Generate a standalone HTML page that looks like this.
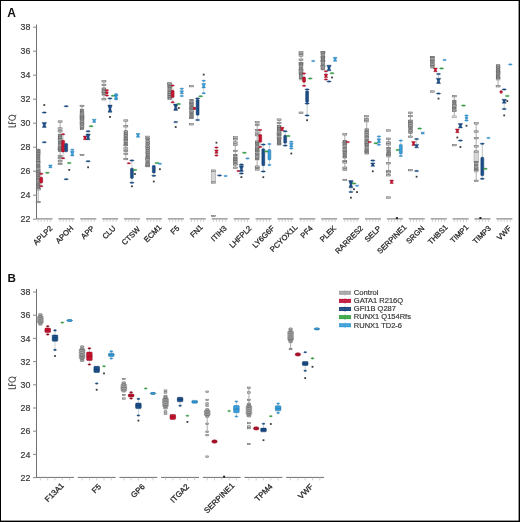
<!DOCTYPE html>
<html><head><meta charset="utf-8"><style>
html,body{margin:0;padding:0;background:#fff;width:520px;height:522px;overflow:hidden}
svg{display:block;will-change:transform}
</style></head><body>
<svg width="520" height="522" viewBox="0 0 520 522" font-family='"Liberation Sans", sans-serif'>
<rect x="0" y="0" width="520" height="522" fill="#fff"/>
<text x="7.2" y="16.8" font-size="12" font-weight="bold" fill="#111">A</text>
<text x="7.6" y="281.5" font-size="11.6" font-weight="bold" fill="#111">B</text>
<line x1="36.5" y1="24.5" x2="36.5" y2="218.9" stroke="#707070" stroke-width="1"/>
<line x1="33" y1="219.20" x2="36.5" y2="219.20" stroke="#8a8a8a" stroke-width="1"/>
<text x="30.3" y="222.30" text-anchor="end" font-size="8.8" fill="#3a3a3a" stroke="#3a3a3a" stroke-width="0.2">22</text>
<line x1="33" y1="195.20" x2="36.5" y2="195.20" stroke="#8a8a8a" stroke-width="1"/>
<text x="30.3" y="198.30" text-anchor="end" font-size="8.8" fill="#3a3a3a" stroke="#3a3a3a" stroke-width="0.2">24</text>
<line x1="33" y1="171.20" x2="36.5" y2="171.20" stroke="#8a8a8a" stroke-width="1"/>
<text x="30.3" y="174.30" text-anchor="end" font-size="8.8" fill="#3a3a3a" stroke="#3a3a3a" stroke-width="0.2">26</text>
<line x1="33" y1="147.20" x2="36.5" y2="147.20" stroke="#8a8a8a" stroke-width="1"/>
<text x="30.3" y="150.30" text-anchor="end" font-size="8.8" fill="#3a3a3a" stroke="#3a3a3a" stroke-width="0.2">28</text>
<line x1="33" y1="123.20" x2="36.5" y2="123.20" stroke="#8a8a8a" stroke-width="1"/>
<text x="30.3" y="126.30" text-anchor="end" font-size="8.8" fill="#3a3a3a" stroke="#3a3a3a" stroke-width="0.2">30</text>
<line x1="33" y1="99.20" x2="36.5" y2="99.20" stroke="#8a8a8a" stroke-width="1"/>
<text x="30.3" y="102.30" text-anchor="end" font-size="8.8" fill="#3a3a3a" stroke="#3a3a3a" stroke-width="0.2">32</text>
<line x1="33" y1="75.20" x2="36.5" y2="75.20" stroke="#8a8a8a" stroke-width="1"/>
<text x="30.3" y="78.30" text-anchor="end" font-size="8.8" fill="#3a3a3a" stroke="#3a3a3a" stroke-width="0.2">34</text>
<line x1="33" y1="51.20" x2="36.5" y2="51.20" stroke="#8a8a8a" stroke-width="1"/>
<text x="30.3" y="54.30" text-anchor="end" font-size="8.8" fill="#3a3a3a" stroke="#3a3a3a" stroke-width="0.2">36</text>
<line x1="33" y1="27.20" x2="36.5" y2="27.20" stroke="#8a8a8a" stroke-width="1"/>
<text x="30.3" y="30.30" text-anchor="end" font-size="8.8" fill="#3a3a3a" stroke="#3a3a3a" stroke-width="0.2">38</text>
<g transform="translate(15.9,127.90) rotate(-90)" fill="none" stroke="#3a3a3a" stroke-width="0.95"><path d="M1,-7.6 V-0.48 H3.1 M4.3,0 V-7.12 H6.5 M4.3,-3.9 H6.1 M11,-1.4 L13,0.3"/><ellipse cx="10.1" cy="-3.8" rx="2.6" ry="3.35"/></g>
<line x1="36.50" y1="218.9" x2="52.50" y2="218.9" stroke="#707070" stroke-width="1"/>
<line x1="38.20" y1="218.9" x2="38.20" y2="221.9" stroke="#b0b0b0" stroke-width="0.6"/>
<line x1="41.25" y1="218.9" x2="41.25" y2="221.9" stroke="#b0b0b0" stroke-width="0.6"/>
<line x1="44.30" y1="218.9" x2="44.30" y2="221.9" stroke="#b0b0b0" stroke-width="0.6"/>
<line x1="47.35" y1="218.9" x2="47.35" y2="221.9" stroke="#b0b0b0" stroke-width="0.6"/>
<line x1="50.40" y1="218.9" x2="50.40" y2="221.9" stroke="#b0b0b0" stroke-width="0.6"/>
<text transform="translate(53.00,228.80) rotate(-45)" text-anchor="end" font-size="7.6" fill="#262626" stroke="#262626" stroke-width="0.28">APLP2</text>
<line x1="58.40" y1="218.9" x2="74.40" y2="218.9" stroke="#707070" stroke-width="1"/>
<line x1="60.10" y1="218.9" x2="60.10" y2="221.9" stroke="#b0b0b0" stroke-width="0.6"/>
<line x1="63.15" y1="218.9" x2="63.15" y2="221.9" stroke="#b0b0b0" stroke-width="0.6"/>
<line x1="66.20" y1="218.9" x2="66.20" y2="221.9" stroke="#b0b0b0" stroke-width="0.6"/>
<line x1="69.25" y1="218.9" x2="69.25" y2="221.9" stroke="#b0b0b0" stroke-width="0.6"/>
<line x1="72.30" y1="218.9" x2="72.30" y2="221.9" stroke="#b0b0b0" stroke-width="0.6"/>
<text transform="translate(73.90,228.80) rotate(-45)" text-anchor="end" font-size="7.6" fill="#262626" stroke="#262626" stroke-width="0.28">APOH</text>
<line x1="80.30" y1="218.9" x2="96.30" y2="218.9" stroke="#707070" stroke-width="1"/>
<line x1="82.00" y1="218.9" x2="82.00" y2="221.9" stroke="#b0b0b0" stroke-width="0.6"/>
<line x1="85.05" y1="218.9" x2="85.05" y2="221.9" stroke="#b0b0b0" stroke-width="0.6"/>
<line x1="88.10" y1="218.9" x2="88.10" y2="221.9" stroke="#b0b0b0" stroke-width="0.6"/>
<line x1="91.15" y1="218.9" x2="91.15" y2="221.9" stroke="#b0b0b0" stroke-width="0.6"/>
<line x1="94.20" y1="218.9" x2="94.20" y2="221.9" stroke="#b0b0b0" stroke-width="0.6"/>
<text transform="translate(94.80,228.80) rotate(-45)" text-anchor="end" font-size="7.6" fill="#262626" stroke="#262626" stroke-width="0.28">APP</text>
<line x1="102.20" y1="218.9" x2="118.20" y2="218.9" stroke="#707070" stroke-width="1"/>
<line x1="103.90" y1="218.9" x2="103.90" y2="221.9" stroke="#b0b0b0" stroke-width="0.6"/>
<line x1="106.95" y1="218.9" x2="106.95" y2="221.9" stroke="#b0b0b0" stroke-width="0.6"/>
<line x1="110.00" y1="218.9" x2="110.00" y2="221.9" stroke="#b0b0b0" stroke-width="0.6"/>
<line x1="113.05" y1="218.9" x2="113.05" y2="221.9" stroke="#b0b0b0" stroke-width="0.6"/>
<line x1="116.10" y1="218.9" x2="116.10" y2="221.9" stroke="#b0b0b0" stroke-width="0.6"/>
<text transform="translate(116.20,228.80) rotate(-45)" text-anchor="end" font-size="7.6" fill="#262626" stroke="#262626" stroke-width="0.28">CLU</text>
<line x1="124.10" y1="218.9" x2="140.10" y2="218.9" stroke="#707070" stroke-width="1"/>
<line x1="125.80" y1="218.9" x2="125.80" y2="221.9" stroke="#b0b0b0" stroke-width="0.6"/>
<line x1="128.85" y1="218.9" x2="128.85" y2="221.9" stroke="#b0b0b0" stroke-width="0.6"/>
<line x1="131.90" y1="218.9" x2="131.90" y2="221.9" stroke="#b0b0b0" stroke-width="0.6"/>
<line x1="134.95" y1="218.9" x2="134.95" y2="221.9" stroke="#b0b0b0" stroke-width="0.6"/>
<line x1="138.00" y1="218.9" x2="138.00" y2="221.9" stroke="#b0b0b0" stroke-width="0.6"/>
<text transform="translate(140.60,229.80) rotate(-45)" text-anchor="end" font-size="7.6" fill="#262626" stroke="#262626" stroke-width="0.28">CTSW</text>
<line x1="146.00" y1="218.9" x2="162.00" y2="218.9" stroke="#707070" stroke-width="1"/>
<line x1="147.70" y1="218.9" x2="147.70" y2="221.9" stroke="#b0b0b0" stroke-width="0.6"/>
<line x1="150.75" y1="218.9" x2="150.75" y2="221.9" stroke="#b0b0b0" stroke-width="0.6"/>
<line x1="153.80" y1="218.9" x2="153.80" y2="221.9" stroke="#b0b0b0" stroke-width="0.6"/>
<line x1="156.85" y1="218.9" x2="156.85" y2="221.9" stroke="#b0b0b0" stroke-width="0.6"/>
<line x1="159.90" y1="218.9" x2="159.90" y2="221.9" stroke="#b0b0b0" stroke-width="0.6"/>
<text transform="translate(162.00,227.80) rotate(-45)" text-anchor="end" font-size="7.6" fill="#262626" stroke="#262626" stroke-width="0.28">ECM1</text>
<line x1="167.90" y1="218.9" x2="183.90" y2="218.9" stroke="#707070" stroke-width="1"/>
<line x1="169.60" y1="218.9" x2="169.60" y2="221.9" stroke="#b0b0b0" stroke-width="0.6"/>
<line x1="172.65" y1="218.9" x2="172.65" y2="221.9" stroke="#b0b0b0" stroke-width="0.6"/>
<line x1="175.70" y1="218.9" x2="175.70" y2="221.9" stroke="#b0b0b0" stroke-width="0.6"/>
<line x1="178.75" y1="218.9" x2="178.75" y2="221.9" stroke="#b0b0b0" stroke-width="0.6"/>
<line x1="181.80" y1="218.9" x2="181.80" y2="221.9" stroke="#b0b0b0" stroke-width="0.6"/>
<text transform="translate(179.90,228.80) rotate(-45)" text-anchor="end" font-size="7.6" fill="#262626" stroke="#262626" stroke-width="0.28">F5</text>
<line x1="189.80" y1="218.9" x2="205.80" y2="218.9" stroke="#707070" stroke-width="1"/>
<line x1="191.50" y1="218.9" x2="191.50" y2="221.9" stroke="#b0b0b0" stroke-width="0.6"/>
<line x1="194.55" y1="218.9" x2="194.55" y2="221.9" stroke="#b0b0b0" stroke-width="0.6"/>
<line x1="197.60" y1="218.9" x2="197.60" y2="221.9" stroke="#b0b0b0" stroke-width="0.6"/>
<line x1="200.65" y1="218.9" x2="200.65" y2="221.9" stroke="#b0b0b0" stroke-width="0.6"/>
<line x1="203.70" y1="218.9" x2="203.70" y2="221.9" stroke="#b0b0b0" stroke-width="0.6"/>
<text transform="translate(203.30,227.80) rotate(-45)" text-anchor="end" font-size="7.6" fill="#262626" stroke="#262626" stroke-width="0.28">FN1</text>
<line x1="211.70" y1="218.9" x2="227.70" y2="218.9" stroke="#707070" stroke-width="1"/>
<line x1="213.40" y1="218.9" x2="213.40" y2="221.9" stroke="#b0b0b0" stroke-width="0.6"/>
<line x1="216.45" y1="218.9" x2="216.45" y2="221.9" stroke="#b0b0b0" stroke-width="0.6"/>
<line x1="219.50" y1="218.9" x2="219.50" y2="221.9" stroke="#b0b0b0" stroke-width="0.6"/>
<line x1="222.55" y1="218.9" x2="222.55" y2="221.9" stroke="#b0b0b0" stroke-width="0.6"/>
<line x1="225.60" y1="218.9" x2="225.60" y2="221.9" stroke="#b0b0b0" stroke-width="0.6"/>
<text transform="translate(227.20,228.80) rotate(-45)" text-anchor="end" font-size="7.6" fill="#262626" stroke="#262626" stroke-width="0.28">ITIH3</text>
<line x1="233.60" y1="218.9" x2="249.60" y2="218.9" stroke="#707070" stroke-width="1"/>
<line x1="235.30" y1="218.9" x2="235.30" y2="221.9" stroke="#b0b0b0" stroke-width="0.6"/>
<line x1="238.35" y1="218.9" x2="238.35" y2="221.9" stroke="#b0b0b0" stroke-width="0.6"/>
<line x1="241.40" y1="218.9" x2="241.40" y2="221.9" stroke="#b0b0b0" stroke-width="0.6"/>
<line x1="244.45" y1="218.9" x2="244.45" y2="221.9" stroke="#b0b0b0" stroke-width="0.6"/>
<line x1="247.50" y1="218.9" x2="247.50" y2="221.9" stroke="#b0b0b0" stroke-width="0.6"/>
<text transform="translate(252.10,228.80) rotate(-45)" text-anchor="end" font-size="7.6" fill="#262626" stroke="#262626" stroke-width="0.28">LHFPL2</text>
<line x1="255.50" y1="218.9" x2="271.50" y2="218.9" stroke="#707070" stroke-width="1"/>
<line x1="257.20" y1="218.9" x2="257.20" y2="221.9" stroke="#b0b0b0" stroke-width="0.6"/>
<line x1="260.25" y1="218.9" x2="260.25" y2="221.9" stroke="#b0b0b0" stroke-width="0.6"/>
<line x1="263.30" y1="218.9" x2="263.30" y2="221.9" stroke="#b0b0b0" stroke-width="0.6"/>
<line x1="266.35" y1="218.9" x2="266.35" y2="221.9" stroke="#b0b0b0" stroke-width="0.6"/>
<line x1="269.40" y1="218.9" x2="269.40" y2="221.9" stroke="#b0b0b0" stroke-width="0.6"/>
<text transform="translate(275.00,228.80) rotate(-45)" text-anchor="end" font-size="7.6" fill="#262626" stroke="#262626" stroke-width="0.28">LY6G6F</text>
<line x1="277.40" y1="218.9" x2="293.40" y2="218.9" stroke="#707070" stroke-width="1"/>
<line x1="279.10" y1="218.9" x2="279.10" y2="221.9" stroke="#b0b0b0" stroke-width="0.6"/>
<line x1="282.15" y1="218.9" x2="282.15" y2="221.9" stroke="#b0b0b0" stroke-width="0.6"/>
<line x1="285.20" y1="218.9" x2="285.20" y2="221.9" stroke="#b0b0b0" stroke-width="0.6"/>
<line x1="288.25" y1="218.9" x2="288.25" y2="221.9" stroke="#b0b0b0" stroke-width="0.6"/>
<line x1="291.30" y1="218.9" x2="291.30" y2="221.9" stroke="#b0b0b0" stroke-width="0.6"/>
<text transform="translate(297.90,227.80) rotate(-45)" text-anchor="end" font-size="7.6" fill="#262626" stroke="#262626" stroke-width="0.28">PCYOX1L</text>
<line x1="299.30" y1="218.9" x2="315.30" y2="218.9" stroke="#707070" stroke-width="1"/>
<line x1="301.00" y1="218.9" x2="301.00" y2="221.9" stroke="#b0b0b0" stroke-width="0.6"/>
<line x1="304.05" y1="218.9" x2="304.05" y2="221.9" stroke="#b0b0b0" stroke-width="0.6"/>
<line x1="307.10" y1="218.9" x2="307.10" y2="221.9" stroke="#b0b0b0" stroke-width="0.6"/>
<line x1="310.15" y1="218.9" x2="310.15" y2="221.9" stroke="#b0b0b0" stroke-width="0.6"/>
<line x1="313.20" y1="218.9" x2="313.20" y2="221.9" stroke="#b0b0b0" stroke-width="0.6"/>
<text transform="translate(313.30,228.80) rotate(-45)" text-anchor="end" font-size="7.6" fill="#262626" stroke="#262626" stroke-width="0.28">PF4</text>
<line x1="321.20" y1="218.9" x2="337.20" y2="218.9" stroke="#707070" stroke-width="1"/>
<line x1="322.90" y1="218.9" x2="322.90" y2="221.9" stroke="#b0b0b0" stroke-width="0.6"/>
<line x1="325.95" y1="218.9" x2="325.95" y2="221.9" stroke="#b0b0b0" stroke-width="0.6"/>
<line x1="329.00" y1="218.9" x2="329.00" y2="221.9" stroke="#b0b0b0" stroke-width="0.6"/>
<line x1="332.05" y1="218.9" x2="332.05" y2="221.9" stroke="#b0b0b0" stroke-width="0.6"/>
<line x1="335.10" y1="218.9" x2="335.10" y2="221.9" stroke="#b0b0b0" stroke-width="0.6"/>
<text transform="translate(336.70,228.80) rotate(-45)" text-anchor="end" font-size="7.6" fill="#262626" stroke="#262626" stroke-width="0.28">PLEK</text>
<line x1="343.10" y1="218.9" x2="359.10" y2="218.9" stroke="#707070" stroke-width="1"/>
<line x1="344.80" y1="218.9" x2="344.80" y2="221.9" stroke="#b0b0b0" stroke-width="0.6"/>
<line x1="347.85" y1="218.9" x2="347.85" y2="221.9" stroke="#b0b0b0" stroke-width="0.6"/>
<line x1="350.90" y1="218.9" x2="350.90" y2="221.9" stroke="#b0b0b0" stroke-width="0.6"/>
<line x1="353.95" y1="218.9" x2="353.95" y2="221.9" stroke="#b0b0b0" stroke-width="0.6"/>
<line x1="357.00" y1="218.9" x2="357.00" y2="221.9" stroke="#b0b0b0" stroke-width="0.6"/>
<text transform="translate(363.60,228.80) rotate(-45)" text-anchor="end" font-size="7.6" fill="#262626" stroke="#262626" stroke-width="0.28">RARRES2</text>
<line x1="365.00" y1="218.9" x2="381.00" y2="218.9" stroke="#707070" stroke-width="1"/>
<line x1="366.70" y1="218.9" x2="366.70" y2="221.9" stroke="#b0b0b0" stroke-width="0.6"/>
<line x1="369.75" y1="218.9" x2="369.75" y2="221.9" stroke="#b0b0b0" stroke-width="0.6"/>
<line x1="372.80" y1="218.9" x2="372.80" y2="221.9" stroke="#b0b0b0" stroke-width="0.6"/>
<line x1="375.85" y1="218.9" x2="375.85" y2="221.9" stroke="#b0b0b0" stroke-width="0.6"/>
<line x1="378.90" y1="218.9" x2="378.90" y2="221.9" stroke="#b0b0b0" stroke-width="0.6"/>
<text transform="translate(381.50,228.80) rotate(-45)" text-anchor="end" font-size="7.6" fill="#262626" stroke="#262626" stroke-width="0.28">SELP</text>
<line x1="386.90" y1="218.9" x2="402.90" y2="218.9" stroke="#707070" stroke-width="1"/>
<line x1="388.60" y1="218.9" x2="388.60" y2="221.9" stroke="#b0b0b0" stroke-width="0.6"/>
<line x1="391.65" y1="218.9" x2="391.65" y2="221.9" stroke="#b0b0b0" stroke-width="0.6"/>
<line x1="394.70" y1="218.9" x2="394.70" y2="221.9" stroke="#b0b0b0" stroke-width="0.6"/>
<line x1="397.75" y1="218.9" x2="397.75" y2="221.9" stroke="#b0b0b0" stroke-width="0.6"/>
<line x1="400.80" y1="218.9" x2="400.80" y2="221.9" stroke="#b0b0b0" stroke-width="0.6"/>
<text transform="translate(406.90,227.80) rotate(-45)" text-anchor="end" font-size="7.6" fill="#262626" stroke="#262626" stroke-width="0.28">SERPINE1</text>
<line x1="408.80" y1="218.9" x2="424.80" y2="218.9" stroke="#707070" stroke-width="1"/>
<line x1="410.50" y1="218.9" x2="410.50" y2="221.9" stroke="#b0b0b0" stroke-width="0.6"/>
<line x1="413.55" y1="218.9" x2="413.55" y2="221.9" stroke="#b0b0b0" stroke-width="0.6"/>
<line x1="416.60" y1="218.9" x2="416.60" y2="221.9" stroke="#b0b0b0" stroke-width="0.6"/>
<line x1="419.65" y1="218.9" x2="419.65" y2="221.9" stroke="#b0b0b0" stroke-width="0.6"/>
<line x1="422.70" y1="218.9" x2="422.70" y2="221.9" stroke="#b0b0b0" stroke-width="0.6"/>
<text transform="translate(424.80,228.80) rotate(-45)" text-anchor="end" font-size="7.6" fill="#262626" stroke="#262626" stroke-width="0.28">SRGN</text>
<line x1="430.70" y1="218.9" x2="446.70" y2="218.9" stroke="#707070" stroke-width="1"/>
<line x1="432.40" y1="218.9" x2="432.40" y2="221.9" stroke="#b0b0b0" stroke-width="0.6"/>
<line x1="435.45" y1="218.9" x2="435.45" y2="221.9" stroke="#b0b0b0" stroke-width="0.6"/>
<line x1="438.50" y1="218.9" x2="438.50" y2="221.9" stroke="#b0b0b0" stroke-width="0.6"/>
<line x1="441.55" y1="218.9" x2="441.55" y2="221.9" stroke="#b0b0b0" stroke-width="0.6"/>
<line x1="444.60" y1="218.9" x2="444.60" y2="221.9" stroke="#b0b0b0" stroke-width="0.6"/>
<text transform="translate(448.20,227.80) rotate(-45)" text-anchor="end" font-size="7.6" fill="#262626" stroke="#262626" stroke-width="0.28">THBS1</text>
<line x1="452.60" y1="218.9" x2="468.60" y2="218.9" stroke="#707070" stroke-width="1"/>
<line x1="454.30" y1="218.9" x2="454.30" y2="221.9" stroke="#b0b0b0" stroke-width="0.6"/>
<line x1="457.35" y1="218.9" x2="457.35" y2="221.9" stroke="#b0b0b0" stroke-width="0.6"/>
<line x1="460.40" y1="218.9" x2="460.40" y2="221.9" stroke="#b0b0b0" stroke-width="0.6"/>
<line x1="463.45" y1="218.9" x2="463.45" y2="221.9" stroke="#b0b0b0" stroke-width="0.6"/>
<line x1="466.50" y1="218.9" x2="466.50" y2="221.9" stroke="#b0b0b0" stroke-width="0.6"/>
<text transform="translate(469.10,227.80) rotate(-45)" text-anchor="end" font-size="7.6" fill="#262626" stroke="#262626" stroke-width="0.28">TIMP1</text>
<line x1="474.50" y1="218.9" x2="490.50" y2="218.9" stroke="#707070" stroke-width="1"/>
<line x1="476.20" y1="218.9" x2="476.20" y2="221.9" stroke="#b0b0b0" stroke-width="0.6"/>
<line x1="479.25" y1="218.9" x2="479.25" y2="221.9" stroke="#b0b0b0" stroke-width="0.6"/>
<line x1="482.30" y1="218.9" x2="482.30" y2="221.9" stroke="#b0b0b0" stroke-width="0.6"/>
<line x1="485.35" y1="218.9" x2="485.35" y2="221.9" stroke="#b0b0b0" stroke-width="0.6"/>
<line x1="488.40" y1="218.9" x2="488.40" y2="221.9" stroke="#b0b0b0" stroke-width="0.6"/>
<text transform="translate(491.50,228.80) rotate(-45)" text-anchor="end" font-size="7.6" fill="#262626" stroke="#262626" stroke-width="0.28">TIMP3</text>
<line x1="496.40" y1="218.9" x2="512.40" y2="218.9" stroke="#707070" stroke-width="1"/>
<line x1="498.10" y1="218.9" x2="498.10" y2="221.9" stroke="#b0b0b0" stroke-width="0.6"/>
<line x1="501.15" y1="218.9" x2="501.15" y2="221.9" stroke="#b0b0b0" stroke-width="0.6"/>
<line x1="504.20" y1="218.9" x2="504.20" y2="221.9" stroke="#b0b0b0" stroke-width="0.6"/>
<line x1="507.25" y1="218.9" x2="507.25" y2="221.9" stroke="#b0b0b0" stroke-width="0.6"/>
<line x1="510.30" y1="218.9" x2="510.30" y2="221.9" stroke="#b0b0b0" stroke-width="0.6"/>
<text transform="translate(511.90,228.80) rotate(-45)" text-anchor="end" font-size="7.6" fill="#262626" stroke="#262626" stroke-width="0.28">VWF</text>
<line x1="36.5" y1="289" x2="36.5" y2="477.4" stroke="#707070" stroke-width="1"/>
<line x1="33" y1="477.60" x2="36.5" y2="477.60" stroke="#8a8a8a" stroke-width="1"/>
<text x="30.3" y="480.70" text-anchor="end" font-size="8.8" fill="#3a3a3a" stroke="#3a3a3a" stroke-width="0.2">22</text>
<line x1="33" y1="454.40" x2="36.5" y2="454.40" stroke="#8a8a8a" stroke-width="1"/>
<text x="30.3" y="457.50" text-anchor="end" font-size="8.8" fill="#3a3a3a" stroke="#3a3a3a" stroke-width="0.2">24</text>
<line x1="33" y1="431.20" x2="36.5" y2="431.20" stroke="#8a8a8a" stroke-width="1"/>
<text x="30.3" y="434.30" text-anchor="end" font-size="8.8" fill="#3a3a3a" stroke="#3a3a3a" stroke-width="0.2">26</text>
<line x1="33" y1="408.00" x2="36.5" y2="408.00" stroke="#8a8a8a" stroke-width="1"/>
<text x="30.3" y="411.10" text-anchor="end" font-size="8.8" fill="#3a3a3a" stroke="#3a3a3a" stroke-width="0.2">28</text>
<line x1="33" y1="384.80" x2="36.5" y2="384.80" stroke="#8a8a8a" stroke-width="1"/>
<text x="30.3" y="387.90" text-anchor="end" font-size="8.8" fill="#3a3a3a" stroke="#3a3a3a" stroke-width="0.2">30</text>
<line x1="33" y1="361.60" x2="36.5" y2="361.60" stroke="#8a8a8a" stroke-width="1"/>
<text x="30.3" y="364.70" text-anchor="end" font-size="8.8" fill="#3a3a3a" stroke="#3a3a3a" stroke-width="0.2">32</text>
<line x1="33" y1="338.40" x2="36.5" y2="338.40" stroke="#8a8a8a" stroke-width="1"/>
<text x="30.3" y="341.50" text-anchor="end" font-size="8.8" fill="#3a3a3a" stroke="#3a3a3a" stroke-width="0.2">34</text>
<line x1="33" y1="315.20" x2="36.5" y2="315.20" stroke="#8a8a8a" stroke-width="1"/>
<text x="30.3" y="318.30" text-anchor="end" font-size="8.8" fill="#3a3a3a" stroke="#3a3a3a" stroke-width="0.2">36</text>
<line x1="33" y1="292.00" x2="36.5" y2="292.00" stroke="#8a8a8a" stroke-width="1"/>
<text x="30.3" y="295.10" text-anchor="end" font-size="8.8" fill="#3a3a3a" stroke="#3a3a3a" stroke-width="0.2">38</text>
<g transform="translate(15.9,389.70) rotate(-90)" fill="none" stroke="#3a3a3a" stroke-width="0.95"><path d="M1,-7.6 V-0.48 H3.1 M4.3,0 V-7.12 H6.5 M4.3,-3.9 H6.1 M11,-1.4 L13,0.3"/><ellipse cx="10.1" cy="-3.8" rx="2.6" ry="3.35"/></g>
<line x1="36.00" y1="477.4" x2="73.90" y2="477.4" stroke="#707070" stroke-width="1"/>
<line x1="40.40" y1="477.4" x2="40.40" y2="480.4" stroke="#b0b0b0" stroke-width="0.6"/>
<line x1="47.70" y1="477.4" x2="47.70" y2="480.4" stroke="#b0b0b0" stroke-width="0.6"/>
<line x1="55.00" y1="477.4" x2="55.00" y2="480.4" stroke="#b0b0b0" stroke-width="0.6"/>
<line x1="62.30" y1="477.4" x2="62.30" y2="480.4" stroke="#b0b0b0" stroke-width="0.6"/>
<line x1="69.60" y1="477.4" x2="69.60" y2="480.4" stroke="#b0b0b0" stroke-width="0.6"/>
<text transform="translate(64.47,486.08) rotate(-45)" text-anchor="end" font-size="7.9" fill="#262626" stroke="#262626" stroke-width="0.28">F13A1</text>
<line x1="77.70" y1="477.4" x2="115.60" y2="477.4" stroke="#707070" stroke-width="1"/>
<line x1="82.10" y1="477.4" x2="82.10" y2="480.4" stroke="#b0b0b0" stroke-width="0.6"/>
<line x1="89.40" y1="477.4" x2="89.40" y2="480.4" stroke="#b0b0b0" stroke-width="0.6"/>
<line x1="96.70" y1="477.4" x2="96.70" y2="480.4" stroke="#b0b0b0" stroke-width="0.6"/>
<line x1="104.00" y1="477.4" x2="104.00" y2="480.4" stroke="#b0b0b0" stroke-width="0.6"/>
<line x1="111.30" y1="477.4" x2="111.30" y2="480.4" stroke="#b0b0b0" stroke-width="0.6"/>
<text transform="translate(101.50,487.12) rotate(-45)" text-anchor="end" font-size="7.9" fill="#262626" stroke="#262626" stroke-width="0.28">F5</text>
<line x1="119.40" y1="477.4" x2="157.30" y2="477.4" stroke="#707070" stroke-width="1"/>
<line x1="123.80" y1="477.4" x2="123.80" y2="480.4" stroke="#b0b0b0" stroke-width="0.6"/>
<line x1="131.10" y1="477.4" x2="131.10" y2="480.4" stroke="#b0b0b0" stroke-width="0.6"/>
<line x1="138.40" y1="477.4" x2="138.40" y2="480.4" stroke="#b0b0b0" stroke-width="0.6"/>
<line x1="145.70" y1="477.4" x2="145.70" y2="480.4" stroke="#b0b0b0" stroke-width="0.6"/>
<line x1="153.00" y1="477.4" x2="153.00" y2="480.4" stroke="#b0b0b0" stroke-width="0.6"/>
<text transform="translate(145.28,487.12) rotate(-45)" text-anchor="end" font-size="7.9" fill="#262626" stroke="#262626" stroke-width="0.28">GP6</text>
<line x1="161.10" y1="477.4" x2="199.00" y2="477.4" stroke="#707070" stroke-width="1"/>
<line x1="165.50" y1="477.4" x2="165.50" y2="480.4" stroke="#b0b0b0" stroke-width="0.6"/>
<line x1="172.80" y1="477.4" x2="172.80" y2="480.4" stroke="#b0b0b0" stroke-width="0.6"/>
<line x1="180.10" y1="477.4" x2="180.10" y2="480.4" stroke="#b0b0b0" stroke-width="0.6"/>
<line x1="187.40" y1="477.4" x2="187.40" y2="480.4" stroke="#b0b0b0" stroke-width="0.6"/>
<line x1="194.70" y1="477.4" x2="194.70" y2="480.4" stroke="#b0b0b0" stroke-width="0.6"/>
<text transform="translate(189.58,487.12) rotate(-45)" text-anchor="end" font-size="7.9" fill="#262626" stroke="#262626" stroke-width="0.28">ITGA2</text>
<line x1="202.80" y1="477.4" x2="240.70" y2="477.4" stroke="#707070" stroke-width="1"/>
<line x1="207.20" y1="477.4" x2="207.20" y2="480.4" stroke="#b0b0b0" stroke-width="0.6"/>
<line x1="214.50" y1="477.4" x2="214.50" y2="480.4" stroke="#b0b0b0" stroke-width="0.6"/>
<line x1="221.80" y1="477.4" x2="221.80" y2="480.4" stroke="#b0b0b0" stroke-width="0.6"/>
<line x1="229.10" y1="477.4" x2="229.10" y2="480.4" stroke="#b0b0b0" stroke-width="0.6"/>
<line x1="236.40" y1="477.4" x2="236.40" y2="480.4" stroke="#b0b0b0" stroke-width="0.6"/>
<text transform="translate(234.91,486.08) rotate(-45)" text-anchor="end" font-size="7.9" fill="#262626" stroke="#262626" stroke-width="0.28">SERPINE1</text>
<line x1="244.50" y1="477.4" x2="282.40" y2="477.4" stroke="#707070" stroke-width="1"/>
<line x1="248.90" y1="477.4" x2="248.90" y2="480.4" stroke="#b0b0b0" stroke-width="0.6"/>
<line x1="256.20" y1="477.4" x2="256.20" y2="480.4" stroke="#b0b0b0" stroke-width="0.6"/>
<line x1="263.50" y1="477.4" x2="263.50" y2="480.4" stroke="#b0b0b0" stroke-width="0.6"/>
<line x1="270.80" y1="477.4" x2="270.80" y2="480.4" stroke="#b0b0b0" stroke-width="0.6"/>
<line x1="278.10" y1="477.4" x2="278.10" y2="480.4" stroke="#b0b0b0" stroke-width="0.6"/>
<text transform="translate(272.98,487.12) rotate(-45)" text-anchor="end" font-size="7.9" fill="#262626" stroke="#262626" stroke-width="0.28">TPM4</text>
<line x1="286.20" y1="477.4" x2="324.10" y2="477.4" stroke="#707070" stroke-width="1"/>
<line x1="290.60" y1="477.4" x2="290.60" y2="480.4" stroke="#b0b0b0" stroke-width="0.6"/>
<line x1="297.90" y1="477.4" x2="297.90" y2="480.4" stroke="#b0b0b0" stroke-width="0.6"/>
<line x1="305.20" y1="477.4" x2="305.20" y2="480.4" stroke="#b0b0b0" stroke-width="0.6"/>
<line x1="312.50" y1="477.4" x2="312.50" y2="480.4" stroke="#b0b0b0" stroke-width="0.6"/>
<line x1="319.80" y1="477.4" x2="319.80" y2="480.4" stroke="#b0b0b0" stroke-width="0.6"/>
<text transform="translate(313.64,487.12) rotate(-45)" text-anchor="end" font-size="7.9" fill="#262626" stroke="#262626" stroke-width="0.28">VWF</text>
<line x1="38.2" y1="148.6" x2="38.2" y2="202.1" stroke="#b4b4b4" stroke-width="1.1"/>
<rect x="36" y="149" width="4.4" height="40.3" fill="#b4b4b4"/>
<rect x="36.49" y="149.2" width="3.42" height="1.4" fill="none" stroke="#5a5a5a" stroke-width="0.6"/>
<rect x="36.34" y="151.15" width="3.71" height="1.4" fill="none" stroke="#5a5a5a" stroke-width="0.6"/>
<rect x="36.39" y="153.02" width="3.61" height="1.4" fill="none" stroke="#5a5a5a" stroke-width="0.6"/>
<rect x="36.6" y="155.19" width="3.19" height="1.4" fill="none" stroke="#5a5a5a" stroke-width="0.6"/>
<rect x="36.61" y="157.5" width="3.17" height="1.4" fill="none" stroke="#5a5a5a" stroke-width="0.6"/>
<rect x="36.6" y="159.73" width="3.2" height="1.4" fill="none" stroke="#5a5a5a" stroke-width="0.6"/>
<rect x="36.44" y="161.62" width="3.51" height="1.4" fill="none" stroke="#5a5a5a" stroke-width="0.6"/>
<rect x="36.58" y="164.25" width="3.25" height="1.4" fill="none" stroke="#5a5a5a" stroke-width="0.6"/>
<rect x="36.35" y="166.27" width="3.69" height="1.4" fill="none" stroke="#5a5a5a" stroke-width="0.6"/>
<rect x="36.38" y="169.02" width="3.65" height="1.4" fill="none" stroke="#5a5a5a" stroke-width="0.6"/>
<rect x="36.2" y="171.22" width="4" height="1.4" fill="none" stroke="#5a5a5a" stroke-width="0.6"/>
<rect x="36.25" y="173.06" width="3.9" height="1.4" fill="none" stroke="#5a5a5a" stroke-width="0.6"/>
<rect x="36.57" y="175.15" width="3.27" height="1.4" fill="none" stroke="#5a5a5a" stroke-width="0.6"/>
<rect x="36.49" y="177.07" width="3.41" height="1.4" fill="none" stroke="#5a5a5a" stroke-width="0.6"/>
<rect x="36.55" y="179.69" width="3.3" height="1.4" fill="none" stroke="#5a5a5a" stroke-width="0.6"/>
<rect x="36.35" y="182.07" width="3.7" height="1.4" fill="none" stroke="#5a5a5a" stroke-width="0.6"/>
<rect x="36.39" y="184.24" width="3.62" height="1.4" fill="none" stroke="#5a5a5a" stroke-width="0.6"/>
<rect x="36.6" y="186.1" width="3.19" height="1.4" fill="none" stroke="#5a5a5a" stroke-width="0.6"/>
<rect x="36.33" y="188.11" width="3.74" height="1.4" fill="none" stroke="#5a5a5a" stroke-width="0.6"/>
<rect x="36.2" y="188.6" width="4" height="1.4" fill="#c8c8c8" stroke="#666" stroke-width="0.55"/>
<rect x="36.2" y="201.4" width="4" height="1.4" fill="#c8c8c8" stroke="#666" stroke-width="0.55"/>
<line x1="41.25" y1="173.7" x2="41.25" y2="177.3" stroke="#9aa" stroke-width="0.5"/>
<line x1="41.25" y1="186.2" x2="41.25" y2="183" stroke="#9aa" stroke-width="0.5"/>
<rect x="39.8" y="177.3" width="2.9" height="5.7" rx="0.8" fill="#c8142f" stroke="#8c0a1e" stroke-width="0.5"/>
<ellipse cx="41.25" cy="173.7" rx="1.8" ry="0.75" fill="#c8142f" stroke="#8c0a1e" stroke-width="0.3"/>
<ellipse cx="41.25" cy="186.2" rx="1.8" ry="0.75" fill="#c8142f" stroke="#8c0a1e" stroke-width="0.3"/>
<polygon points="42.1,122.4 46.5,122.4 45.15,125.15 46.28,127.4 42.32,127.4 43.45,125.15" fill="#1c4f8a" stroke="#0e3560" stroke-width="0.4"/>
<ellipse cx="44.3" cy="112.6" rx="2.2" ry="0.75" fill="#1c4f8a" stroke="#0e3560" stroke-width="0.3"/>
<ellipse cx="44.3" cy="142.3" rx="2.2" ry="0.75" fill="#1c4f8a" stroke="#0e3560" stroke-width="0.3"/>
<rect x="43.4" y="104.1" width="1.8" height="1.8" fill="#3a3a3a"/>
<ellipse cx="47.35" cy="172.8" rx="2.15" ry="0.75" fill="#3aa648" stroke="#2a7f36" stroke-width="0.3"/>
<polygon points="48.5,165 52.3,165 51.25,166.54 52.11,167.8 48.69,167.8 49.55,166.54" fill="#3a9fdb" stroke="#1c6ea3" stroke-width="0.4"/>
<line x1="60.1" y1="121.5" x2="60.1" y2="164" stroke="#b4b4b4" stroke-width="1.1"/>
<rect x="57.9" y="134" width="4.4" height="17.3" fill="#b4b4b4"/>
<rect x="58.39" y="134.2" width="3.42" height="1.4" fill="none" stroke="#5a5a5a" stroke-width="0.6"/>
<rect x="58.33" y="136.59" width="3.54" height="1.4" fill="none" stroke="#5a5a5a" stroke-width="0.6"/>
<rect x="58.18" y="138.69" width="3.84" height="1.4" fill="none" stroke="#5a5a5a" stroke-width="0.6"/>
<rect x="58.42" y="141.18" width="3.35" height="1.4" fill="none" stroke="#5a5a5a" stroke-width="0.6"/>
<rect x="58.3" y="143.56" width="3.6" height="1.4" fill="none" stroke="#5a5a5a" stroke-width="0.6"/>
<rect x="58.21" y="146.23" width="3.78" height="1.4" fill="none" stroke="#5a5a5a" stroke-width="0.6"/>
<rect x="58.1" y="148.32" width="4" height="1.4" fill="none" stroke="#5a5a5a" stroke-width="0.6"/>
<rect x="58.35" y="150.24" width="3.51" height="1.4" fill="none" stroke="#5a5a5a" stroke-width="0.6"/>
<rect x="58.1" y="120.8" width="4" height="1.4" fill="#c8c8c8" stroke="#666" stroke-width="0.55"/>
<rect x="58.1" y="127.8" width="4" height="1.4" fill="#c8c8c8" stroke="#666" stroke-width="0.55"/>
<rect x="58.1" y="130.6" width="4" height="1.4" fill="#c8c8c8" stroke="#666" stroke-width="0.55"/>
<rect x="58.1" y="155.3" width="4" height="1.4" fill="#c8c8c8" stroke="#666" stroke-width="0.55"/>
<rect x="58.1" y="157.5" width="4" height="1.4" fill="#c8c8c8" stroke="#666" stroke-width="0.55"/>
<rect x="58.1" y="160.6" width="4" height="1.4" fill="#c8c8c8" stroke="#666" stroke-width="0.55"/>
<rect x="58.1" y="163.3" width="4" height="1.4" fill="#c8c8c8" stroke="#666" stroke-width="0.55"/>
<line x1="63.15" y1="134.3" x2="63.15" y2="140.3" stroke="#9aa" stroke-width="0.5"/>
<line x1="63.15" y1="158.2" x2="63.15" y2="152" stroke="#9aa" stroke-width="0.5"/>
<rect x="61.7" y="140.3" width="2.9" height="11.7" rx="0.8" fill="#c8142f" stroke="#8c0a1e" stroke-width="0.5"/>
<ellipse cx="63.15" cy="134.3" rx="1.8" ry="0.75" fill="#c8142f" stroke="#8c0a1e" stroke-width="0.3"/>
<ellipse cx="63.15" cy="158.2" rx="1.8" ry="0.75" fill="#c8142f" stroke="#8c0a1e" stroke-width="0.3"/>
<rect x="64.75" y="143.4" width="2.9" height="8.4" rx="0.8" fill="#1c4f8a" stroke="#0e3560" stroke-width="0.5"/>
<ellipse cx="66.2" cy="106.3" rx="2.2" ry="0.75" fill="#1c4f8a" stroke="#0e3560" stroke-width="0.3"/>
<ellipse cx="66.2" cy="179.2" rx="2.2" ry="0.75" fill="#1c4f8a" stroke="#0e3560" stroke-width="0.3"/>
<ellipse cx="69.25" cy="163.1" rx="2.15" ry="0.75" fill="#3aa648" stroke="#2a7f36" stroke-width="0.3"/>
<rect x="68.35" y="169" width="1.8" height="1.8" fill="#3a3a3a"/>
<line x1="72.3" y1="149.7" x2="72.3" y2="151.3" stroke="#9aa" stroke-width="0.5"/>
<polygon points="70.4,151.3 74.2,151.3 73.15,153.88 74.01,156 70.59,156 71.45,153.88" fill="#3a9fdb" stroke="#1c6ea3" stroke-width="0.4"/>
<ellipse cx="72.3" cy="149.7" rx="1.85" ry="0.75" fill="#3a9fdb" stroke="#1c6ea3" stroke-width="0.3"/>
<line x1="82" y1="105.9" x2="82" y2="129.2" stroke="#b4b4b4" stroke-width="1.1"/>
<rect x="79.8" y="109" width="4.4" height="20.2" fill="#b4b4b4"/>
<rect x="80.36" y="109.2" width="3.27" height="1.4" fill="none" stroke="#5a5a5a" stroke-width="0.6"/>
<rect x="80.41" y="111.49" width="3.17" height="1.4" fill="none" stroke="#5a5a5a" stroke-width="0.6"/>
<rect x="80.09" y="113.96" width="3.81" height="1.4" fill="none" stroke="#5a5a5a" stroke-width="0.6"/>
<rect x="80.04" y="116.33" width="3.91" height="1.4" fill="none" stroke="#5a5a5a" stroke-width="0.6"/>
<rect x="80.12" y="118.44" width="3.75" height="1.4" fill="none" stroke="#5a5a5a" stroke-width="0.6"/>
<rect x="80.17" y="120.84" width="3.65" height="1.4" fill="none" stroke="#5a5a5a" stroke-width="0.6"/>
<rect x="80.06" y="123.09" width="3.88" height="1.4" fill="none" stroke="#5a5a5a" stroke-width="0.6"/>
<rect x="80.22" y="125.84" width="3.56" height="1.4" fill="none" stroke="#5a5a5a" stroke-width="0.6"/>
<rect x="80.4" y="128.3" width="3.19" height="1.4" fill="none" stroke="#5a5a5a" stroke-width="0.6"/>
<rect x="80" y="105.2" width="4" height="1.4" fill="#c8c8c8" stroke="#666" stroke-width="0.55"/>
<rect x="80" y="154.3" width="4" height="1.4" fill="#c8c8c8" stroke="#666" stroke-width="0.55"/>
<polygon points="83.15,136 86.95,136 85.9,138.03 86.76,139.7 83.34,139.7 84.2,138.03" fill="#c8142f" stroke="#8c0a1e" stroke-width="0.4"/>
<line x1="88.1" y1="131.3" x2="88.1" y2="134" stroke="#9aa" stroke-width="0.5"/>
<polygon points="85.9,134 90.3,134 88.95,137.13 90.08,139.7 86.12,139.7 87.25,137.13" fill="#1c4f8a" stroke="#0e3560" stroke-width="0.4"/>
<ellipse cx="88.1" cy="131.3" rx="2.2" ry="0.75" fill="#1c4f8a" stroke="#0e3560" stroke-width="0.3"/>
<ellipse cx="88.1" cy="161.3" rx="2.2" ry="0.75" fill="#1c4f8a" stroke="#0e3560" stroke-width="0.3"/>
<rect x="87.2" y="166.4" width="1.8" height="1.8" fill="#3a3a3a"/>
<ellipse cx="91.15" cy="126.2" rx="2.15" ry="0.75" fill="#3aa648" stroke="#2a7f36" stroke-width="0.3"/>
<polygon points="92.3,119.2 96.1,119.2 95.05,120.96 95.91,122.4 92.49,122.4 93.35,120.96" fill="#3a9fdb" stroke="#1c6ea3" stroke-width="0.4"/>
<line x1="103.9" y1="81.3" x2="103.9" y2="99.3" stroke="#b4b4b4" stroke-width="1.1"/>
<rect x="101.7" y="87.8" width="4.4" height="8.2" fill="#b4b4b4"/>
<rect x="102.05" y="88" width="3.71" height="1.4" fill="none" stroke="#5a5a5a" stroke-width="0.6"/>
<rect x="101.97" y="90.79" width="3.86" height="1.4" fill="none" stroke="#5a5a5a" stroke-width="0.6"/>
<rect x="102.16" y="92.88" width="3.48" height="1.4" fill="none" stroke="#5a5a5a" stroke-width="0.6"/>
<rect x="101.9" y="80.6" width="4" height="1.4" fill="#c8c8c8" stroke="#666" stroke-width="0.55"/>
<rect x="101.9" y="84.2" width="4" height="1.4" fill="#c8c8c8" stroke="#666" stroke-width="0.55"/>
<rect x="101.9" y="98.6" width="4" height="1.4" fill="#c8c8c8" stroke="#666" stroke-width="0.55"/>
<circle cx="106.95" cy="92.8" r="1.4" fill="#c8142f" stroke="#8c0a1e" stroke-width="0.3"/>
<ellipse cx="106.95" cy="90.2" rx="1.8" ry="0.75" fill="#c8142f" stroke="#8c0a1e" stroke-width="0.3"/>
<ellipse cx="106.95" cy="95.6" rx="1.8" ry="0.75" fill="#c8142f" stroke="#8c0a1e" stroke-width="0.3"/>
<line x1="110" y1="98.4" x2="110" y2="105.1" stroke="#9aa" stroke-width="0.5"/>
<polygon points="107.8,105.1 112.2,105.1 110.85,109.06 111.98,112.3 108.02,112.3 109.15,109.06" fill="#1c4f8a" stroke="#0e3560" stroke-width="0.4"/>
<ellipse cx="110" cy="98.4" rx="2.2" ry="0.75" fill="#1c4f8a" stroke="#0e3560" stroke-width="0.3"/>
<rect x="109.1" y="116" width="1.8" height="1.8" fill="#3a3a3a"/>
<ellipse cx="113.05" cy="95.8" rx="2.15" ry="0.75" fill="#3aa648" stroke="#2a7f36" stroke-width="0.3"/>
<line x1="116.1" y1="94.2" x2="116.1" y2="95" stroke="#9aa" stroke-width="0.5"/>
<line x1="116.1" y1="99.3" x2="116.1" y2="98.5" stroke="#9aa" stroke-width="0.5"/>
<polygon points="114.2,95 118,95 116.95,96.92 117.81,98.5 114.39,98.5 115.25,96.92" fill="#3a9fdb" stroke="#1c6ea3" stroke-width="0.4"/>
<ellipse cx="116.1" cy="94.2" rx="1.85" ry="0.75" fill="#3a9fdb" stroke="#1c6ea3" stroke-width="0.3"/>
<ellipse cx="116.1" cy="99.3" rx="1.85" ry="0.75" fill="#3a9fdb" stroke="#1c6ea3" stroke-width="0.3"/>
<line x1="125.8" y1="120.5" x2="125.8" y2="159.1" stroke="#b4b4b4" stroke-width="1.1"/>
<rect x="123.6" y="130.6" width="4.4" height="15.4" fill="#b4b4b4"/>
<rect x="124.22" y="130.8" width="3.16" height="1.4" fill="none" stroke="#5a5a5a" stroke-width="0.6"/>
<rect x="124.16" y="133.06" width="3.29" height="1.4" fill="none" stroke="#5a5a5a" stroke-width="0.6"/>
<rect x="124.2" y="134.98" width="3.19" height="1.4" fill="none" stroke="#5a5a5a" stroke-width="0.6"/>
<rect x="124.17" y="137.55" width="3.25" height="1.4" fill="none" stroke="#5a5a5a" stroke-width="0.6"/>
<rect x="124.06" y="139.59" width="3.48" height="1.4" fill="none" stroke="#5a5a5a" stroke-width="0.6"/>
<rect x="124.19" y="142.27" width="3.21" height="1.4" fill="none" stroke="#5a5a5a" stroke-width="0.6"/>
<rect x="123.99" y="144.52" width="3.62" height="1.4" fill="none" stroke="#5a5a5a" stroke-width="0.6"/>
<rect x="123.8" y="119.8" width="4" height="1.4" fill="#c8c8c8" stroke="#666" stroke-width="0.55"/>
<rect x="123.8" y="125.6" width="4" height="1.4" fill="#c8c8c8" stroke="#666" stroke-width="0.55"/>
<rect x="123.8" y="147.8" width="4" height="1.4" fill="#c8c8c8" stroke="#666" stroke-width="0.55"/>
<rect x="123.8" y="150.3" width="4" height="1.4" fill="#c8c8c8" stroke="#666" stroke-width="0.55"/>
<rect x="123.8" y="153.1" width="4" height="1.4" fill="#c8c8c8" stroke="#666" stroke-width="0.55"/>
<rect x="123.8" y="158.4" width="4" height="1.4" fill="#c8c8c8" stroke="#666" stroke-width="0.55"/>
<ellipse cx="128.85" cy="163.3" rx="1.8" ry="0.75" fill="#c8142f" stroke="#8c0a1e" stroke-width="0.3"/>
<line x1="131.9" y1="160.4" x2="131.9" y2="168.3" stroke="#9aa" stroke-width="0.5"/>
<line x1="131.9" y1="182.7" x2="131.9" y2="178.4" stroke="#9aa" stroke-width="0.5"/>
<rect x="130.45" y="168.3" width="2.9" height="10.1" rx="0.8" fill="#1c4f8a" stroke="#0e3560" stroke-width="0.5"/>
<ellipse cx="131.9" cy="160.4" rx="2.2" ry="0.75" fill="#1c4f8a" stroke="#0e3560" stroke-width="0.3"/>
<ellipse cx="131.9" cy="182.7" rx="2.2" ry="0.75" fill="#1c4f8a" stroke="#0e3560" stroke-width="0.3"/>
<rect x="131" y="185.4" width="1.8" height="1.8" fill="#3a3a3a"/>
<ellipse cx="134.95" cy="169.9" rx="2.15" ry="0.75" fill="#3aa648" stroke="#2a7f36" stroke-width="0.3"/>
<rect x="134.05" y="173.1" width="1.8" height="1.8" fill="#3a3a3a"/>
<polygon points="136.1,133.5 139.9,133.5 138.85,135.59 139.71,137.3 136.29,137.3 137.15,135.59" fill="#3a9fdb" stroke="#1c6ea3" stroke-width="0.4"/>
<line x1="147.7" y1="136.8" x2="147.7" y2="167" stroke="#b4b4b4" stroke-width="1.1"/>
<rect x="145.5" y="138" width="4.4" height="29" fill="#b4b4b4"/>
<rect x="145.77" y="138.2" width="3.86" height="1.4" fill="none" stroke="#5a5a5a" stroke-width="0.6"/>
<rect x="146.01" y="140.86" width="3.39" height="1.4" fill="none" stroke="#5a5a5a" stroke-width="0.6"/>
<rect x="145.97" y="143.08" width="3.46" height="1.4" fill="none" stroke="#5a5a5a" stroke-width="0.6"/>
<rect x="145.71" y="145.76" width="3.98" height="1.4" fill="none" stroke="#5a5a5a" stroke-width="0.6"/>
<rect x="146.05" y="147.71" width="3.3" height="1.4" fill="none" stroke="#5a5a5a" stroke-width="0.6"/>
<rect x="146.03" y="149.75" width="3.35" height="1.4" fill="none" stroke="#5a5a5a" stroke-width="0.6"/>
<rect x="145.87" y="152.03" width="3.66" height="1.4" fill="none" stroke="#5a5a5a" stroke-width="0.6"/>
<rect x="146.13" y="154.09" width="3.14" height="1.4" fill="none" stroke="#5a5a5a" stroke-width="0.6"/>
<rect x="145.97" y="156.31" width="3.46" height="1.4" fill="none" stroke="#5a5a5a" stroke-width="0.6"/>
<rect x="145.71" y="158.68" width="3.98" height="1.4" fill="none" stroke="#5a5a5a" stroke-width="0.6"/>
<rect x="145.9" y="161.17" width="3.59" height="1.4" fill="none" stroke="#5a5a5a" stroke-width="0.6"/>
<rect x="145.83" y="163.59" width="3.74" height="1.4" fill="none" stroke="#5a5a5a" stroke-width="0.6"/>
<rect x="145.73" y="165.44" width="3.93" height="1.4" fill="none" stroke="#5a5a5a" stroke-width="0.6"/>
<rect x="145.7" y="136.1" width="4" height="1.4" fill="#c8c8c8" stroke="#666" stroke-width="0.55"/>
<line x1="153.8" y1="175.8" x2="153.8" y2="173" stroke="#9aa" stroke-width="0.5"/>
<rect x="152.35" y="165.4" width="2.9" height="7.6" rx="0.8" fill="#1c4f8a" stroke="#0e3560" stroke-width="0.5"/>
<ellipse cx="153.8" cy="175.8" rx="2.2" ry="0.75" fill="#1c4f8a" stroke="#0e3560" stroke-width="0.3"/>
<rect x="152.9" y="180.6" width="1.8" height="1.8" fill="#3a3a3a"/>
<ellipse cx="156.85" cy="163" rx="2.15" ry="0.75" fill="#3aa648" stroke="#2a7f36" stroke-width="0.3"/>
<ellipse cx="159.9" cy="163.7" rx="1.85" ry="0.75" fill="#3a9fdb" stroke="#1c6ea3" stroke-width="0.3"/>
<rect x="159" y="168.3" width="1.8" height="1.8" fill="#3a3a3a"/>
<line x1="169.6" y1="82.6" x2="169.6" y2="99.9" stroke="#b4b4b4" stroke-width="1.1"/>
<rect x="167.4" y="82.6" width="4.4" height="17.3" fill="#b4b4b4"/>
<rect x="167.65" y="82.8" width="3.91" height="1.4" fill="none" stroke="#5a5a5a" stroke-width="0.6"/>
<rect x="167.86" y="85.4" width="3.49" height="1.4" fill="none" stroke="#5a5a5a" stroke-width="0.6"/>
<rect x="167.98" y="87.6" width="3.23" height="1.4" fill="none" stroke="#5a5a5a" stroke-width="0.6"/>
<rect x="168" y="90.03" width="3.19" height="1.4" fill="none" stroke="#5a5a5a" stroke-width="0.6"/>
<rect x="167.94" y="91.9" width="3.32" height="1.4" fill="none" stroke="#5a5a5a" stroke-width="0.6"/>
<rect x="167.88" y="93.86" width="3.44" height="1.4" fill="none" stroke="#5a5a5a" stroke-width="0.6"/>
<rect x="168.03" y="95.71" width="3.14" height="1.4" fill="none" stroke="#5a5a5a" stroke-width="0.6"/>
<rect x="167.99" y="97.66" width="3.23" height="1.4" fill="none" stroke="#5a5a5a" stroke-width="0.6"/>
<line x1="172.65" y1="85.5" x2="172.65" y2="90.3" stroke="#9aa" stroke-width="0.5"/>
<line x1="172.65" y1="102.3" x2="172.65" y2="97.5" stroke="#9aa" stroke-width="0.5"/>
<rect x="171.2" y="90.3" width="2.9" height="7.2" rx="0.8" fill="#c8142f" stroke="#8c0a1e" stroke-width="0.5"/>
<ellipse cx="172.65" cy="85.5" rx="1.8" ry="0.75" fill="#c8142f" stroke="#8c0a1e" stroke-width="0.3"/>
<ellipse cx="172.65" cy="102.3" rx="1.8" ry="0.75" fill="#c8142f" stroke="#8c0a1e" stroke-width="0.3"/>
<polygon points="173.5,104.1 177.9,104.1 176.55,107.56 177.68,110.4 173.72,110.4 174.85,107.56" fill="#1c4f8a" stroke="#0e3560" stroke-width="0.4"/>
<ellipse cx="175.7" cy="122.1" rx="2.2" ry="0.75" fill="#1c4f8a" stroke="#0e3560" stroke-width="0.3"/>
<rect x="174.8" y="126.1" width="1.8" height="1.8" fill="#3a3a3a"/>
<ellipse cx="178.75" cy="104.1" rx="2.15" ry="0.75" fill="#3aa648" stroke="#2a7f36" stroke-width="0.3"/>
<rect x="177.85" y="107.1" width="1.8" height="1.8" fill="#3a3a3a"/>
<line x1="181.8" y1="88.7" x2="181.8" y2="90.8" stroke="#9aa" stroke-width="0.5"/>
<line x1="181.8" y1="96" x2="181.8" y2="93.7" stroke="#9aa" stroke-width="0.5"/>
<polygon points="179.9,90.8 183.7,90.8 182.65,92.39 183.51,93.7 180.09,93.7 180.95,92.39" fill="#3a9fdb" stroke="#1c6ea3" stroke-width="0.4"/>
<ellipse cx="181.8" cy="88.7" rx="1.85" ry="0.75" fill="#3a9fdb" stroke="#1c6ea3" stroke-width="0.3"/>
<ellipse cx="181.8" cy="96" rx="1.85" ry="0.75" fill="#3a9fdb" stroke="#1c6ea3" stroke-width="0.3"/>
<line x1="191.5" y1="99.3" x2="191.5" y2="118.6" stroke="#b4b4b4" stroke-width="1.1"/>
<rect x="189.3" y="99.3" width="4.4" height="19.3" fill="#b4b4b4"/>
<rect x="189.92" y="99.5" width="3.16" height="1.4" fill="none" stroke="#5a5a5a" stroke-width="0.6"/>
<rect x="189.66" y="102.17" width="3.68" height="1.4" fill="none" stroke="#5a5a5a" stroke-width="0.6"/>
<rect x="189.82" y="104.12" width="3.36" height="1.4" fill="none" stroke="#5a5a5a" stroke-width="0.6"/>
<rect x="189.77" y="106.27" width="3.46" height="1.4" fill="none" stroke="#5a5a5a" stroke-width="0.6"/>
<rect x="189.56" y="108.19" width="3.89" height="1.4" fill="none" stroke="#5a5a5a" stroke-width="0.6"/>
<rect x="189.72" y="110.99" width="3.55" height="1.4" fill="none" stroke="#5a5a5a" stroke-width="0.6"/>
<rect x="189.89" y="113.27" width="3.22" height="1.4" fill="none" stroke="#5a5a5a" stroke-width="0.6"/>
<rect x="189.78" y="115.17" width="3.44" height="1.4" fill="none" stroke="#5a5a5a" stroke-width="0.6"/>
<rect x="189.57" y="117.24" width="3.87" height="1.4" fill="none" stroke="#5a5a5a" stroke-width="0.6"/>
<rect x="189.5" y="85.5" width="4" height="1.4" fill="#c8c8c8" stroke="#666" stroke-width="0.55"/>
<rect x="189.5" y="123.6" width="4" height="1.4" fill="#c8c8c8" stroke="#666" stroke-width="0.55"/>
<circle cx="194.55" cy="108.5" r="1.4" fill="#c8142f" stroke="#8c0a1e" stroke-width="0.3"/>
<line x1="197.6" y1="98.4" x2="197.6" y2="99.4" stroke="#9aa" stroke-width="0.5"/>
<line x1="197.6" y1="120" x2="197.6" y2="115.2" stroke="#9aa" stroke-width="0.5"/>
<rect x="196.15" y="99.4" width="2.9" height="15.8" rx="0.8" fill="#1c4f8a" stroke="#0e3560" stroke-width="0.5"/>
<ellipse cx="197.6" cy="98.4" rx="2.2" ry="0.75" fill="#1c4f8a" stroke="#0e3560" stroke-width="0.3"/>
<ellipse cx="197.6" cy="120" rx="2.2" ry="0.75" fill="#1c4f8a" stroke="#0e3560" stroke-width="0.3"/>
<ellipse cx="200.65" cy="96.3" rx="2.15" ry="0.75" fill="#3aa648" stroke="#2a7f36" stroke-width="0.3"/>
<line x1="203.7" y1="80.7" x2="203.7" y2="83.6" stroke="#9aa" stroke-width="0.5"/>
<line x1="203.7" y1="93.2" x2="203.7" y2="87.9" stroke="#9aa" stroke-width="0.5"/>
<polygon points="201.8,83.6 205.6,83.6 204.55,85.97 205.41,87.9 201.99,87.9 202.85,85.97" fill="#3a9fdb" stroke="#1c6ea3" stroke-width="0.4"/>
<ellipse cx="203.7" cy="80.7" rx="1.85" ry="0.75" fill="#3a9fdb" stroke="#1c6ea3" stroke-width="0.3"/>
<ellipse cx="203.7" cy="93.2" rx="1.85" ry="0.75" fill="#3a9fdb" stroke="#1c6ea3" stroke-width="0.3"/>
<rect x="202.8" y="73.7" width="1.8" height="1.8" fill="#3a3a3a"/>
<line x1="213.4" y1="170.6" x2="213.4" y2="182.5" stroke="#b4b4b4" stroke-width="1.1"/>
<rect x="211.2" y="171" width="4.4" height="11" fill="#d6d6d6" stroke="#9a9a9a" stroke-width="0.5"/>
<rect x="211.4" y="169.9" width="4" height="1.4" fill="#c8c8c8" stroke="#666" stroke-width="0.55"/>
<rect x="211.4" y="181.8" width="4" height="1.4" fill="#c8c8c8" stroke="#666" stroke-width="0.55"/>
<rect x="211.4" y="215.3" width="4" height="1.4" fill="#c8c8c8" stroke="#666" stroke-width="0.55"/>
<line x1="216.45" y1="147.5" x2="216.45" y2="149.9" stroke="#9aa" stroke-width="0.5"/>
<line x1="216.45" y1="155.4" x2="216.45" y2="153.3" stroke="#9aa" stroke-width="0.5"/>
<polygon points="214.55,149.9 218.35,149.9 217.3,151.77 218.16,153.3 214.74,153.3 215.6,151.77" fill="#c8142f" stroke="#8c0a1e" stroke-width="0.4"/>
<ellipse cx="216.45" cy="147.5" rx="1.8" ry="0.75" fill="#c8142f" stroke="#8c0a1e" stroke-width="0.3"/>
<ellipse cx="216.45" cy="155.4" rx="1.8" ry="0.75" fill="#c8142f" stroke="#8c0a1e" stroke-width="0.3"/>
<rect x="215.55" y="141.8" width="1.8" height="1.8" fill="#3a3a3a"/>
<ellipse cx="219.5" cy="175.4" rx="2.2" ry="0.75" fill="#1c4f8a" stroke="#0e3560" stroke-width="0.3"/>
<ellipse cx="225.6" cy="175.9" rx="1.85" ry="0.75" fill="#3a9fdb" stroke="#1c6ea3" stroke-width="0.3"/>
<line x1="235.3" y1="137.4" x2="235.3" y2="167.7" stroke="#b4b4b4" stroke-width="1.1"/>
<rect x="233.1" y="154.2" width="4.4" height="10.6" fill="#b4b4b4"/>
<rect x="233.72" y="154.4" width="3.16" height="1.4" fill="none" stroke="#5a5a5a" stroke-width="0.6"/>
<rect x="233.5" y="157.15" width="3.6" height="1.4" fill="none" stroke="#5a5a5a" stroke-width="0.6"/>
<rect x="233.49" y="159.1" width="3.62" height="1.4" fill="none" stroke="#5a5a5a" stroke-width="0.6"/>
<rect x="233.5" y="160.92" width="3.6" height="1.4" fill="none" stroke="#5a5a5a" stroke-width="0.6"/>
<rect x="233.35" y="163.7" width="3.9" height="1.4" fill="none" stroke="#5a5a5a" stroke-width="0.6"/>
<rect x="233.3" y="136.7" width="4" height="1.4" fill="#c8c8c8" stroke="#666" stroke-width="0.55"/>
<rect x="233.3" y="138.6" width="4" height="1.4" fill="#c8c8c8" stroke="#666" stroke-width="0.55"/>
<rect x="233.3" y="141.8" width="4" height="1.4" fill="#c8c8c8" stroke="#666" stroke-width="0.55"/>
<rect x="233.3" y="143.9" width="4" height="1.4" fill="#c8c8c8" stroke="#666" stroke-width="0.55"/>
<rect x="233.3" y="150.2" width="4" height="1.4" fill="#c8c8c8" stroke="#666" stroke-width="0.55"/>
<rect x="233.3" y="167" width="4" height="1.4" fill="#c8c8c8" stroke="#666" stroke-width="0.55"/>
<ellipse cx="238.35" cy="171.1" rx="1.8" ry="0.75" fill="#c8142f" stroke="#8c0a1e" stroke-width="0.3"/>
<line x1="241.4" y1="164.6" x2="241.4" y2="165.8" stroke="#9aa" stroke-width="0.5"/>
<line x1="241.4" y1="173.5" x2="241.4" y2="171.5" stroke="#9aa" stroke-width="0.5"/>
<polygon points="239.2,165.8 243.6,165.8 242.25,168.94 243.38,171.5 239.42,171.5 240.55,168.94" fill="#1c4f8a" stroke="#0e3560" stroke-width="0.4"/>
<ellipse cx="241.4" cy="164.6" rx="2.2" ry="0.75" fill="#1c4f8a" stroke="#0e3560" stroke-width="0.3"/>
<ellipse cx="241.4" cy="173.5" rx="2.2" ry="0.75" fill="#1c4f8a" stroke="#0e3560" stroke-width="0.3"/>
<rect x="240.5" y="176.2" width="1.8" height="1.8" fill="#3a3a3a"/>
<ellipse cx="244.45" cy="152.8" rx="2.15" ry="0.75" fill="#3aa648" stroke="#2a7f36" stroke-width="0.3"/>
<ellipse cx="247.5" cy="158.4" rx="1.85" ry="0.75" fill="#3a9fdb" stroke="#1c6ea3" stroke-width="0.3"/>
<line x1="257.2" y1="122.3" x2="257.2" y2="169.5" stroke="#b4b4b4" stroke-width="1.1"/>
<rect x="255" y="140.8" width="4.4" height="19.6" fill="#b4b4b4"/>
<rect x="255.52" y="141" width="3.37" height="1.4" fill="none" stroke="#5a5a5a" stroke-width="0.6"/>
<rect x="255.56" y="143.17" width="3.29" height="1.4" fill="none" stroke="#5a5a5a" stroke-width="0.6"/>
<rect x="255.4" y="145.74" width="3.61" height="1.4" fill="none" stroke="#5a5a5a" stroke-width="0.6"/>
<rect x="255.48" y="148.32" width="3.43" height="1.4" fill="none" stroke="#5a5a5a" stroke-width="0.6"/>
<rect x="255.27" y="150.34" width="3.85" height="1.4" fill="none" stroke="#5a5a5a" stroke-width="0.6"/>
<rect x="255.25" y="153.13" width="3.89" height="1.4" fill="none" stroke="#5a5a5a" stroke-width="0.6"/>
<rect x="255.27" y="155.73" width="3.86" height="1.4" fill="none" stroke="#5a5a5a" stroke-width="0.6"/>
<rect x="255.53" y="158.27" width="3.34" height="1.4" fill="none" stroke="#5a5a5a" stroke-width="0.6"/>
<rect x="255.2" y="121.6" width="4" height="1.4" fill="#c8c8c8" stroke="#666" stroke-width="0.55"/>
<rect x="255.2" y="124.2" width="4" height="1.4" fill="#c8c8c8" stroke="#666" stroke-width="0.55"/>
<rect x="255.2" y="129.3" width="4" height="1.4" fill="#c8c8c8" stroke="#666" stroke-width="0.55"/>
<rect x="255.2" y="131.9" width="4" height="1.4" fill="#c8c8c8" stroke="#666" stroke-width="0.55"/>
<rect x="255.2" y="134.5" width="4" height="1.4" fill="#c8c8c8" stroke="#666" stroke-width="0.55"/>
<rect x="255.2" y="165.9" width="4" height="1.4" fill="#c8c8c8" stroke="#666" stroke-width="0.55"/>
<rect x="255.2" y="167.3" width="4" height="1.4" fill="#c8c8c8" stroke="#666" stroke-width="0.55"/>
<rect x="255.2" y="168.8" width="4" height="1.4" fill="#c8c8c8" stroke="#666" stroke-width="0.55"/>
<line x1="260.25" y1="130" x2="260.25" y2="134.5" stroke="#9aa" stroke-width="0.5"/>
<line x1="260.25" y1="147" x2="260.25" y2="142.2" stroke="#9aa" stroke-width="0.5"/>
<rect x="258.8" y="134.5" width="2.9" height="7.7" rx="0.8" fill="#c8142f" stroke="#8c0a1e" stroke-width="0.5"/>
<ellipse cx="260.25" cy="130" rx="1.8" ry="0.75" fill="#c8142f" stroke="#8c0a1e" stroke-width="0.3"/>
<ellipse cx="260.25" cy="147" rx="1.8" ry="0.75" fill="#c8142f" stroke="#8c0a1e" stroke-width="0.3"/>
<line x1="263.3" y1="144.6" x2="263.3" y2="148.8" stroke="#9aa" stroke-width="0.5"/>
<line x1="263.3" y1="171.4" x2="263.3" y2="165.7" stroke="#9aa" stroke-width="0.5"/>
<rect x="261.85" y="148.8" width="2.9" height="16.9" rx="0.8" fill="#1c4f8a" stroke="#0e3560" stroke-width="0.5"/>
<ellipse cx="263.3" cy="144.6" rx="2.2" ry="0.75" fill="#1c4f8a" stroke="#0e3560" stroke-width="0.3"/>
<ellipse cx="263.3" cy="171.4" rx="2.2" ry="0.75" fill="#1c4f8a" stroke="#0e3560" stroke-width="0.3"/>
<rect x="262.4" y="176.3" width="1.8" height="1.8" fill="#3a3a3a"/>
<ellipse cx="266.35" cy="151.4" rx="2.15" ry="0.75" fill="#3aa648" stroke="#2a7f36" stroke-width="0.3"/>
<line x1="269.4" y1="144.1" x2="269.4" y2="149.6" stroke="#9aa" stroke-width="0.5"/>
<line x1="269.4" y1="165" x2="269.4" y2="159.9" stroke="#9aa" stroke-width="0.5"/>
<rect x="267.95" y="149.6" width="2.9" height="10.3" rx="0.8" fill="#3a9fdb" stroke="#1c6ea3" stroke-width="0.5"/>
<ellipse cx="269.4" cy="144.1" rx="1.85" ry="0.75" fill="#3a9fdb" stroke="#1c6ea3" stroke-width="0.3"/>
<ellipse cx="269.4" cy="165" rx="1.85" ry="0.75" fill="#3a9fdb" stroke="#1c6ea3" stroke-width="0.3"/>
<line x1="279.1" y1="119.6" x2="279.1" y2="145.6" stroke="#b4b4b4" stroke-width="1.1"/>
<rect x="276.9" y="125.4" width="4.4" height="20.2" fill="#b4b4b4"/>
<rect x="277.37" y="125.6" width="3.45" height="1.4" fill="none" stroke="#5a5a5a" stroke-width="0.6"/>
<rect x="277.52" y="127.43" width="3.16" height="1.4" fill="none" stroke="#5a5a5a" stroke-width="0.6"/>
<rect x="277.42" y="129.51" width="3.37" height="1.4" fill="none" stroke="#5a5a5a" stroke-width="0.6"/>
<rect x="277.11" y="132" width="3.98" height="1.4" fill="none" stroke="#5a5a5a" stroke-width="0.6"/>
<rect x="277.12" y="134.25" width="3.96" height="1.4" fill="none" stroke="#5a5a5a" stroke-width="0.6"/>
<rect x="277.11" y="137.04" width="3.98" height="1.4" fill="none" stroke="#5a5a5a" stroke-width="0.6"/>
<rect x="277.43" y="139.2" width="3.33" height="1.4" fill="none" stroke="#5a5a5a" stroke-width="0.6"/>
<rect x="277.44" y="141.23" width="3.31" height="1.4" fill="none" stroke="#5a5a5a" stroke-width="0.6"/>
<rect x="277.26" y="143.23" width="3.69" height="1.4" fill="none" stroke="#5a5a5a" stroke-width="0.6"/>
<rect x="277.1" y="118.9" width="4" height="1.4" fill="#c8c8c8" stroke="#666" stroke-width="0.55"/>
<rect x="277.1" y="122.3" width="4" height="1.4" fill="#c8c8c8" stroke="#666" stroke-width="0.55"/>
<polygon points="280.25,127.3 284.05,127.3 283,129.17 283.86,130.7 280.44,130.7 281.3,129.17" fill="#c8142f" stroke="#8c0a1e" stroke-width="0.4"/>
<line x1="285.2" y1="131.3" x2="285.2" y2="135.2" stroke="#9aa" stroke-width="0.5"/>
<line x1="285.2" y1="145.6" x2="285.2" y2="143.2" stroke="#9aa" stroke-width="0.5"/>
<rect x="283.75" y="135.2" width="2.9" height="8" rx="0.8" fill="#1c4f8a" stroke="#0e3560" stroke-width="0.5"/>
<ellipse cx="285.2" cy="131.3" rx="2.2" ry="0.75" fill="#1c4f8a" stroke="#0e3560" stroke-width="0.3"/>
<ellipse cx="285.2" cy="145.6" rx="2.2" ry="0.75" fill="#1c4f8a" stroke="#0e3560" stroke-width="0.3"/>
<ellipse cx="288.25" cy="136" rx="2.15" ry="0.75" fill="#3aa648" stroke="#2a7f36" stroke-width="0.3"/>
<line x1="291.3" y1="141.7" x2="291.3" y2="143.2" stroke="#9aa" stroke-width="0.5"/>
<line x1="291.3" y1="148.5" x2="291.3" y2="147" stroke="#9aa" stroke-width="0.5"/>
<polygon points="289.4,143.2 293.2,143.2 292.15,145.29 293.01,147 289.59,147 290.45,145.29" fill="#3a9fdb" stroke="#1c6ea3" stroke-width="0.4"/>
<ellipse cx="291.3" cy="141.7" rx="1.85" ry="0.75" fill="#3a9fdb" stroke="#1c6ea3" stroke-width="0.3"/>
<ellipse cx="291.3" cy="148.5" rx="1.85" ry="0.75" fill="#3a9fdb" stroke="#1c6ea3" stroke-width="0.3"/>
<rect x="290.4" y="152.6" width="1.8" height="1.8" fill="#3a3a3a"/>
<line x1="301" y1="52.3" x2="301" y2="80.3" stroke="#b4b4b4" stroke-width="1.1"/>
<rect x="298.8" y="62.1" width="4.4" height="18.2" fill="#b4b4b4"/>
<rect x="299.06" y="62.3" width="3.88" height="1.4" fill="none" stroke="#5a5a5a" stroke-width="0.6"/>
<rect x="299.14" y="64.58" width="3.71" height="1.4" fill="none" stroke="#5a5a5a" stroke-width="0.6"/>
<rect x="299.39" y="67.18" width="3.21" height="1.4" fill="none" stroke="#5a5a5a" stroke-width="0.6"/>
<rect x="299.03" y="69.64" width="3.94" height="1.4" fill="none" stroke="#5a5a5a" stroke-width="0.6"/>
<rect x="299.1" y="72.22" width="3.8" height="1.4" fill="none" stroke="#5a5a5a" stroke-width="0.6"/>
<rect x="299.35" y="74.5" width="3.3" height="1.4" fill="none" stroke="#5a5a5a" stroke-width="0.6"/>
<rect x="299.28" y="77.09" width="3.43" height="1.4" fill="none" stroke="#5a5a5a" stroke-width="0.6"/>
<rect x="299" y="51.6" width="4" height="1.4" fill="#c8c8c8" stroke="#666" stroke-width="0.55"/>
<rect x="299" y="53.3" width="4" height="1.4" fill="#c8c8c8" stroke="#666" stroke-width="0.55"/>
<rect x="299" y="54.8" width="4" height="1.4" fill="#c8c8c8" stroke="#666" stroke-width="0.55"/>
<rect x="299" y="59" width="4" height="1.4" fill="#c8c8c8" stroke="#666" stroke-width="0.55"/>
<rect x="299" y="112" width="4" height="1.4" fill="#c8c8c8" stroke="#666" stroke-width="0.55"/>
<line x1="304.05" y1="73.5" x2="304.05" y2="77" stroke="#9aa" stroke-width="0.5"/>
<line x1="304.05" y1="85.8" x2="304.05" y2="82.3" stroke="#9aa" stroke-width="0.5"/>
<rect x="302.6" y="77" width="2.9" height="5.3" rx="0.8" fill="#c8142f" stroke="#8c0a1e" stroke-width="0.5"/>
<ellipse cx="304.05" cy="73.5" rx="1.8" ry="0.75" fill="#c8142f" stroke="#8c0a1e" stroke-width="0.3"/>
<ellipse cx="304.05" cy="85.8" rx="1.8" ry="0.75" fill="#c8142f" stroke="#8c0a1e" stroke-width="0.3"/>
<line x1="307.1" y1="89.4" x2="307.1" y2="90.9" stroke="#9aa" stroke-width="0.5"/>
<line x1="307.1" y1="103.6" x2="307.1" y2="102.4" stroke="#9aa" stroke-width="0.5"/>
<line x1="307.1" y1="102.4" x2="307.1" y2="115.4" stroke="#8a9a9a" stroke-width="0.6"/>
<rect x="305.65" y="90.9" width="2.9" height="11.5" rx="0.8" fill="#1c4f8a" stroke="#0e3560" stroke-width="0.5"/>
<ellipse cx="307.1" cy="89.4" rx="2.2" ry="0.75" fill="#1c4f8a" stroke="#0e3560" stroke-width="0.3"/>
<ellipse cx="307.1" cy="103.6" rx="2.2" ry="0.75" fill="#1c4f8a" stroke="#0e3560" stroke-width="0.3"/>
<ellipse cx="307.1" cy="115.4" rx="2.2" ry="0.75" fill="#1c4f8a" stroke="#0e3560" stroke-width="0.3"/>
<rect x="306.2" y="119.3" width="1.8" height="1.8" fill="#3a3a3a"/>
<ellipse cx="310.15" cy="78.5" rx="2.15" ry="0.75" fill="#3aa648" stroke="#2a7f36" stroke-width="0.3"/>
<ellipse cx="313.2" cy="61" rx="1.85" ry="0.75" fill="#3a9fdb" stroke="#1c6ea3" stroke-width="0.3"/>
<line x1="322.9" y1="51.3" x2="322.9" y2="70.3" stroke="#b4b4b4" stroke-width="1.1"/>
<rect x="320.7" y="51.3" width="4.4" height="19" fill="#b4b4b4"/>
<rect x="320.9" y="51.5" width="4" height="1.4" fill="none" stroke="#5a5a5a" stroke-width="0.6"/>
<rect x="321.15" y="53.7" width="3.49" height="1.4" fill="none" stroke="#5a5a5a" stroke-width="0.6"/>
<rect x="321.01" y="56.44" width="3.78" height="1.4" fill="none" stroke="#5a5a5a" stroke-width="0.6"/>
<rect x="321.27" y="58.41" width="3.25" height="1.4" fill="none" stroke="#5a5a5a" stroke-width="0.6"/>
<rect x="320.93" y="60.36" width="3.94" height="1.4" fill="none" stroke="#5a5a5a" stroke-width="0.6"/>
<rect x="321.27" y="62.97" width="3.27" height="1.4" fill="none" stroke="#5a5a5a" stroke-width="0.6"/>
<rect x="320.9" y="65.6" width="4" height="1.4" fill="none" stroke="#5a5a5a" stroke-width="0.6"/>
<rect x="321.18" y="68.05" width="3.45" height="1.4" fill="none" stroke="#5a5a5a" stroke-width="0.6"/>
<line x1="325.95" y1="71.3" x2="325.95" y2="74.1" stroke="#9aa" stroke-width="0.5"/>
<line x1="325.95" y1="79.4" x2="325.95" y2="77.5" stroke="#9aa" stroke-width="0.5"/>
<polygon points="324.05,74.1 327.85,74.1 326.8,75.97 327.66,77.5 324.24,77.5 325.1,75.97" fill="#c8142f" stroke="#8c0a1e" stroke-width="0.4"/>
<ellipse cx="325.95" cy="71.3" rx="1.8" ry="0.75" fill="#c8142f" stroke="#8c0a1e" stroke-width="0.3"/>
<ellipse cx="325.95" cy="79.4" rx="1.8" ry="0.75" fill="#c8142f" stroke="#8c0a1e" stroke-width="0.3"/>
<polygon points="326.8,65.2 331.2,65.2 329.85,68.28 330.98,70.8 327.02,70.8 328.15,68.28" fill="#1c4f8a" stroke="#0e3560" stroke-width="0.4"/>
<ellipse cx="329" cy="81.5" rx="2.2" ry="0.75" fill="#1c4f8a" stroke="#0e3560" stroke-width="0.3"/>
<ellipse cx="332.05" cy="73.2" rx="2.15" ry="0.75" fill="#3aa648" stroke="#2a7f36" stroke-width="0.3"/>
<rect x="331.15" y="76.6" width="1.8" height="1.8" fill="#3a3a3a"/>
<polygon points="333.2,57.3 337,57.3 335.95,59.5 336.81,61.3 333.39,61.3 334.25,59.5" fill="#3a9fdb" stroke="#1c6ea3" stroke-width="0.4"/>
<line x1="344.8" y1="134.4" x2="344.8" y2="169.6" stroke="#b4b4b4" stroke-width="1.1"/>
<rect x="342.6" y="140.2" width="4.4" height="17.9" fill="#b4b4b4"/>
<rect x="343.17" y="140.4" width="3.26" height="1.4" fill="none" stroke="#5a5a5a" stroke-width="0.6"/>
<rect x="342.8" y="142.21" width="3.99" height="1.4" fill="none" stroke="#5a5a5a" stroke-width="0.6"/>
<rect x="343" y="144.66" width="3.6" height="1.4" fill="none" stroke="#5a5a5a" stroke-width="0.6"/>
<rect x="343.04" y="147.4" width="3.52" height="1.4" fill="none" stroke="#5a5a5a" stroke-width="0.6"/>
<rect x="342.87" y="150.07" width="3.87" height="1.4" fill="none" stroke="#5a5a5a" stroke-width="0.6"/>
<rect x="343.12" y="152.08" width="3.36" height="1.4" fill="none" stroke="#5a5a5a" stroke-width="0.6"/>
<rect x="343.12" y="154.17" width="3.35" height="1.4" fill="none" stroke="#5a5a5a" stroke-width="0.6"/>
<rect x="343.12" y="156.56" width="3.37" height="1.4" fill="none" stroke="#5a5a5a" stroke-width="0.6"/>
<rect x="342.8" y="133.7" width="4" height="1.4" fill="#c8c8c8" stroke="#666" stroke-width="0.55"/>
<rect x="342.8" y="160.3" width="4" height="1.4" fill="#c8c8c8" stroke="#666" stroke-width="0.55"/>
<rect x="342.8" y="161.7" width="4" height="1.4" fill="#c8c8c8" stroke="#666" stroke-width="0.55"/>
<rect x="342.8" y="167" width="4" height="1.4" fill="#c8c8c8" stroke="#666" stroke-width="0.55"/>
<rect x="342.8" y="168.9" width="4" height="1.4" fill="#c8c8c8" stroke="#666" stroke-width="0.55"/>
<rect x="342.8" y="179.2" width="4" height="1.4" fill="#c8c8c8" stroke="#666" stroke-width="0.55"/>
<ellipse cx="347.85" cy="142.1" rx="1.8" ry="0.75" fill="#c8142f" stroke="#8c0a1e" stroke-width="0.3"/>
<line x1="350.9" y1="191.9" x2="350.9" y2="187.8" stroke="#9aa" stroke-width="0.5"/>
<polygon points="348.7,180.6 353.1,180.6 351.75,184.56 352.88,187.8 348.92,187.8 350.05,184.56" fill="#1c4f8a" stroke="#0e3560" stroke-width="0.4"/>
<ellipse cx="350.9" cy="191.9" rx="2.2" ry="0.75" fill="#1c4f8a" stroke="#0e3560" stroke-width="0.3"/>
<rect x="350" y="196.8" width="1.8" height="1.8" fill="#3a3a3a"/>
<ellipse cx="353.95" cy="183.5" rx="2.15" ry="0.75" fill="#3aa648" stroke="#2a7f36" stroke-width="0.3"/>
<rect x="353.05" y="188.3" width="1.8" height="1.8" fill="#3a3a3a"/>
<ellipse cx="357" cy="185.7" rx="1.85" ry="0.75" fill="#3a9fdb" stroke="#1c6ea3" stroke-width="0.3"/>
<rect x="356.1" y="191.2" width="1.8" height="1.8" fill="#3a3a3a"/>
<line x1="366.7" y1="116.3" x2="366.7" y2="153.75" stroke="#b4b4b4" stroke-width="1.1"/>
<rect x="364.5" y="128.7" width="4.4" height="25.05" fill="#b4b4b4"/>
<rect x="365.07" y="128.9" width="3.26" height="1.4" fill="none" stroke="#5a5a5a" stroke-width="0.6"/>
<rect x="364.97" y="131.61" width="3.45" height="1.4" fill="none" stroke="#5a5a5a" stroke-width="0.6"/>
<rect x="364.87" y="133.87" width="3.65" height="1.4" fill="none" stroke="#5a5a5a" stroke-width="0.6"/>
<rect x="364.94" y="136.57" width="3.51" height="1.4" fill="none" stroke="#5a5a5a" stroke-width="0.6"/>
<rect x="364.91" y="139.29" width="3.58" height="1.4" fill="none" stroke="#5a5a5a" stroke-width="0.6"/>
<rect x="364.9" y="141.62" width="3.6" height="1.4" fill="none" stroke="#5a5a5a" stroke-width="0.6"/>
<rect x="364.94" y="143.44" width="3.53" height="1.4" fill="none" stroke="#5a5a5a" stroke-width="0.6"/>
<rect x="365.13" y="145.42" width="3.14" height="1.4" fill="none" stroke="#5a5a5a" stroke-width="0.6"/>
<rect x="365.05" y="148.02" width="3.29" height="1.4" fill="none" stroke="#5a5a5a" stroke-width="0.6"/>
<rect x="364.81" y="150.3" width="3.78" height="1.4" fill="none" stroke="#5a5a5a" stroke-width="0.6"/>
<rect x="364.99" y="152.65" width="3.43" height="1.4" fill="none" stroke="#5a5a5a" stroke-width="0.6"/>
<rect x="364.7" y="115.6" width="4" height="1.4" fill="#c8c8c8" stroke="#666" stroke-width="0.55"/>
<rect x="364.7" y="118.5" width="4" height="1.4" fill="#c8c8c8" stroke="#666" stroke-width="0.55"/>
<rect x="364.7" y="120.5" width="4" height="1.4" fill="#c8c8c8" stroke="#666" stroke-width="0.55"/>
<ellipse cx="369.75" cy="142.1" rx="1.8" ry="0.75" fill="#c8142f" stroke="#8c0a1e" stroke-width="0.3"/>
<line x1="372.8" y1="160.5" x2="372.8" y2="162.9" stroke="#9aa" stroke-width="0.5"/>
<polygon points="370.6,162.9 375,162.9 373.65,164.77 374.78,166.3 370.82,166.3 371.95,164.77" fill="#1c4f8a" stroke="#0e3560" stroke-width="0.4"/>
<ellipse cx="372.8" cy="160.5" rx="2.2" ry="0.75" fill="#1c4f8a" stroke="#0e3560" stroke-width="0.3"/>
<rect x="371.9" y="170.4" width="1.8" height="1.8" fill="#3a3a3a"/>
<ellipse cx="375.85" cy="143.2" rx="2.15" ry="0.75" fill="#3aa648" stroke="#2a7f36" stroke-width="0.3"/>
<line x1="378.9" y1="136.4" x2="378.9" y2="138.8" stroke="#9aa" stroke-width="0.5"/>
<line x1="378.9" y1="144.8" x2="378.9" y2="142.7" stroke="#9aa" stroke-width="0.5"/>
<polygon points="377,138.8 380.8,138.8 379.75,140.94 380.61,142.7 377.19,142.7 378.05,140.94" fill="#3a9fdb" stroke="#1c6ea3" stroke-width="0.4"/>
<ellipse cx="378.9" cy="136.4" rx="1.85" ry="0.75" fill="#3a9fdb" stroke="#1c6ea3" stroke-width="0.3"/>
<ellipse cx="378.9" cy="144.8" rx="1.85" ry="0.75" fill="#3a9fdb" stroke="#1c6ea3" stroke-width="0.3"/>
<line x1="388.6" y1="138.7" x2="388.6" y2="175.3" stroke="#b4b4b4" stroke-width="1.1"/>
<rect x="386.4" y="147.3" width="4.4" height="10.2" fill="#b4b4b4"/>
<rect x="386.79" y="147.5" width="3.63" height="1.4" fill="none" stroke="#5a5a5a" stroke-width="0.6"/>
<rect x="386.98" y="150.08" width="3.23" height="1.4" fill="none" stroke="#5a5a5a" stroke-width="0.6"/>
<rect x="386.92" y="152.44" width="3.36" height="1.4" fill="none" stroke="#5a5a5a" stroke-width="0.6"/>
<rect x="386.69" y="154.52" width="3.82" height="1.4" fill="none" stroke="#5a5a5a" stroke-width="0.6"/>
<rect x="386.6" y="129.8" width="4" height="1.4" fill="#c8c8c8" stroke="#666" stroke-width="0.55"/>
<rect x="386.6" y="138" width="4" height="1.4" fill="#c8c8c8" stroke="#666" stroke-width="0.55"/>
<rect x="386.6" y="141.8" width="4" height="1.4" fill="#c8c8c8" stroke="#666" stroke-width="0.55"/>
<rect x="386.6" y="143.7" width="4" height="1.4" fill="#c8c8c8" stroke="#666" stroke-width="0.55"/>
<rect x="386.6" y="162.6" width="4" height="1.4" fill="#c8c8c8" stroke="#666" stroke-width="0.55"/>
<rect x="386.6" y="170.7" width="4" height="1.4" fill="#c8c8c8" stroke="#666" stroke-width="0.55"/>
<rect x="386.6" y="171.7" width="4" height="1.4" fill="#c8c8c8" stroke="#666" stroke-width="0.55"/>
<rect x="386.6" y="174.6" width="4" height="1.4" fill="#c8c8c8" stroke="#666" stroke-width="0.55"/>
<rect x="386.6" y="196.8" width="4" height="1.4" fill="#c8c8c8" stroke="#666" stroke-width="0.55"/>
<polygon points="389.75,180.1 393.55,180.1 392.5,181.97 393.36,183.5 389.94,183.5 390.8,181.97" fill="#c8142f" stroke="#8c0a1e" stroke-width="0.4"/>
<ellipse cx="397.75" cy="150" rx="2.15" ry="0.75" fill="#3aa648" stroke="#2a7f36" stroke-width="0.3"/>
<rect x="395.9" y="217.1" width="2" height="2" fill="#222"/>
<line x1="400.8" y1="140.6" x2="400.8" y2="144.4" stroke="#9aa" stroke-width="0.5"/>
<line x1="400.8" y1="156.1" x2="400.8" y2="154.1" stroke="#9aa" stroke-width="0.5"/>
<rect x="399.35" y="144.4" width="2.9" height="9.7" rx="0.8" fill="#3a9fdb" stroke="#1c6ea3" stroke-width="0.5"/>
<ellipse cx="400.8" cy="140.6" rx="1.85" ry="0.75" fill="#3a9fdb" stroke="#1c6ea3" stroke-width="0.3"/>
<ellipse cx="400.8" cy="156.1" rx="1.85" ry="0.75" fill="#3a9fdb" stroke="#1c6ea3" stroke-width="0.3"/>
<line x1="410.5" y1="112.7" x2="410.5" y2="136.7" stroke="#b4b4b4" stroke-width="1.1"/>
<rect x="408.3" y="119.9" width="4.4" height="13" fill="#b4b4b4"/>
<rect x="408.68" y="120.1" width="3.63" height="1.4" fill="none" stroke="#5a5a5a" stroke-width="0.6"/>
<rect x="408.53" y="122.66" width="3.94" height="1.4" fill="none" stroke="#5a5a5a" stroke-width="0.6"/>
<rect x="408.66" y="124.9" width="3.68" height="1.4" fill="none" stroke="#5a5a5a" stroke-width="0.6"/>
<rect x="408.7" y="127.21" width="3.59" height="1.4" fill="none" stroke="#5a5a5a" stroke-width="0.6"/>
<rect x="408.73" y="129.7" width="3.54" height="1.4" fill="none" stroke="#5a5a5a" stroke-width="0.6"/>
<rect x="408.72" y="132.03" width="3.56" height="1.4" fill="none" stroke="#5a5a5a" stroke-width="0.6"/>
<rect x="408.5" y="112" width="4" height="1.4" fill="#c8c8c8" stroke="#666" stroke-width="0.55"/>
<rect x="408.5" y="115.4" width="4" height="1.4" fill="#c8c8c8" stroke="#666" stroke-width="0.55"/>
<rect x="408.5" y="136" width="4" height="1.4" fill="#c8c8c8" stroke="#666" stroke-width="0.55"/>
<rect x="408.5" y="169.5" width="4" height="1.4" fill="#c8c8c8" stroke="#666" stroke-width="0.55"/>
<polygon points="411.65,141.5 415.45,141.5 414.4,143.65 415.26,145.4 411.84,145.4 412.7,143.65" fill="#c8142f" stroke="#8c0a1e" stroke-width="0.4"/>
<line x1="416.6" y1="139.1" x2="416.6" y2="144.4" stroke="#9aa" stroke-width="0.5"/>
<polygon points="414.4,144.4 418.8,144.4 417.45,146.27 418.58,147.8 414.62,147.8 415.75,146.27" fill="#1c4f8a" stroke="#0e3560" stroke-width="0.4"/>
<ellipse cx="416.6" cy="139.1" rx="2.2" ry="0.75" fill="#1c4f8a" stroke="#0e3560" stroke-width="0.3"/>
<ellipse cx="416.6" cy="171" rx="2.2" ry="0.75" fill="#1c4f8a" stroke="#0e3560" stroke-width="0.3"/>
<rect x="415.7" y="175.8" width="1.8" height="1.8" fill="#3a3a3a"/>
<ellipse cx="419.65" cy="128.6" rx="2.15" ry="0.75" fill="#3aa648" stroke="#2a7f36" stroke-width="0.3"/>
<polygon points="420.8,132.2 424.6,132.2 423.55,133.19 424.41,134 420.99,134 421.85,133.19" fill="#3a9fdb" stroke="#1c6ea3" stroke-width="0.4"/>
<line x1="432.4" y1="56.1" x2="432.4" y2="68.6" stroke="#b4b4b4" stroke-width="1.1"/>
<rect x="430.2" y="56.1" width="4.4" height="12.5" fill="#b4b4b4"/>
<rect x="430.52" y="56.3" width="3.76" height="1.4" fill="none" stroke="#5a5a5a" stroke-width="0.6"/>
<rect x="430.42" y="58.98" width="3.97" height="1.4" fill="none" stroke="#5a5a5a" stroke-width="0.6"/>
<rect x="430.58" y="61.04" width="3.63" height="1.4" fill="none" stroke="#5a5a5a" stroke-width="0.6"/>
<rect x="430.46" y="63.78" width="3.88" height="1.4" fill="none" stroke="#5a5a5a" stroke-width="0.6"/>
<rect x="430.78" y="65.72" width="3.25" height="1.4" fill="none" stroke="#5a5a5a" stroke-width="0.6"/>
<rect x="430.4" y="90.8" width="4" height="1.4" fill="#c8c8c8" stroke="#666" stroke-width="0.55"/>
<polygon points="433.55,68.1 437.35,68.1 436.3,70.08 437.16,71.7 433.74,71.7 434.6,70.08" fill="#c8142f" stroke="#8c0a1e" stroke-width="0.4"/>
<line x1="438.5" y1="74" x2="438.5" y2="78.2" stroke="#9aa" stroke-width="0.5"/>
<polygon points="436.3,78.2 440.7,78.2 439.35,81.11 440.48,83.5 436.52,83.5 437.65,81.11" fill="#1c4f8a" stroke="#0e3560" stroke-width="0.4"/>
<ellipse cx="438.5" cy="74" rx="2.2" ry="0.75" fill="#1c4f8a" stroke="#0e3560" stroke-width="0.3"/>
<ellipse cx="438.5" cy="93.6" rx="2.2" ry="0.75" fill="#1c4f8a" stroke="#0e3560" stroke-width="0.3"/>
<rect x="437.6" y="97.7" width="1.8" height="1.8" fill="#3a3a3a"/>
<ellipse cx="441.55" cy="68.4" rx="2.15" ry="0.75" fill="#3aa648" stroke="#2a7f36" stroke-width="0.3"/>
<ellipse cx="444.6" cy="59.9" rx="1.85" ry="0.75" fill="#3a9fdb" stroke="#1c6ea3" stroke-width="0.3"/>
<line x1="454.3" y1="96.2" x2="454.3" y2="117.8" stroke="#b4b4b4" stroke-width="1.1"/>
<rect x="452.1" y="115.9" width="4.4" height="1.9" fill="#d6d6d6" stroke="#9a9a9a" stroke-width="0.5"/>
<rect x="452.1" y="100" width="4.4" height="11.6" fill="#b4b4b4"/>
<rect x="452.7" y="100.2" width="3.2" height="1.4" fill="none" stroke="#5a5a5a" stroke-width="0.6"/>
<rect x="452.7" y="102.24" width="3.2" height="1.4" fill="none" stroke="#5a5a5a" stroke-width="0.6"/>
<rect x="452.39" y="104.71" width="3.83" height="1.4" fill="none" stroke="#5a5a5a" stroke-width="0.6"/>
<rect x="452.66" y="107.41" width="3.28" height="1.4" fill="none" stroke="#5a5a5a" stroke-width="0.6"/>
<rect x="452.44" y="109.92" width="3.72" height="1.4" fill="none" stroke="#5a5a5a" stroke-width="0.6"/>
<rect x="452.3" y="95.5" width="4" height="1.4" fill="#c8c8c8" stroke="#666" stroke-width="0.55"/>
<rect x="452.3" y="144.5" width="4" height="1.4" fill="#c8c8c8" stroke="#666" stroke-width="0.55"/>
<polygon points="455.45,128.9 459.25,128.9 458.2,130.99 459.06,132.7 455.64,132.7 456.5,130.99" fill="#c8142f" stroke="#8c0a1e" stroke-width="0.4"/>
<rect x="456.45" y="136.6" width="1.8" height="1.8" fill="#3a3a3a"/>
<polygon points="458.2,123.5 462.6,123.5 461.25,125.92 462.38,127.9 458.42,127.9 459.55,125.92" fill="#1c4f8a" stroke="#0e3560" stroke-width="0.4"/>
<ellipse cx="460.4" cy="140.6" rx="2.2" ry="0.75" fill="#1c4f8a" stroke="#0e3560" stroke-width="0.3"/>
<rect x="459.5" y="146.1" width="1.8" height="1.8" fill="#3a3a3a"/>
<ellipse cx="463.45" cy="105.6" rx="2.15" ry="0.75" fill="#3aa648" stroke="#2a7f36" stroke-width="0.3"/>
<circle cx="466.5" cy="118" r="1.4" fill="#3a9fdb" stroke="#1c6ea3" stroke-width="0.3"/>
<ellipse cx="466.5" cy="115.5" rx="1.85" ry="0.75" fill="#3a9fdb" stroke="#1c6ea3" stroke-width="0.3"/>
<ellipse cx="466.5" cy="120.5" rx="1.85" ry="0.75" fill="#3a9fdb" stroke="#1c6ea3" stroke-width="0.3"/>
<rect x="465.6" y="124.8" width="1.8" height="1.8" fill="#3a3a3a"/>
<line x1="476.2" y1="123.4" x2="476.2" y2="180.8" stroke="#b4b4b4" stroke-width="1.1"/>
<rect x="474" y="151.5" width="4.4" height="9.7" fill="#d6d6d6" stroke="#9a9a9a" stroke-width="0.5"/>
<rect x="474" y="161.2" width="4.4" height="11.1" fill="#b4b4b4"/>
<rect x="474.24" y="161.4" width="3.92" height="1.4" fill="none" stroke="#5a5a5a" stroke-width="0.6"/>
<rect x="474.53" y="164.17" width="3.33" height="1.4" fill="none" stroke="#5a5a5a" stroke-width="0.6"/>
<rect x="474.45" y="166.92" width="3.49" height="1.4" fill="none" stroke="#5a5a5a" stroke-width="0.6"/>
<rect x="474.19" y="169.21" width="4.01" height="1.4" fill="none" stroke="#5a5a5a" stroke-width="0.6"/>
<rect x="474.2" y="122.7" width="4" height="1.4" fill="#c8c8c8" stroke="#666" stroke-width="0.55"/>
<rect x="474.2" y="130.8" width="4" height="1.4" fill="#c8c8c8" stroke="#666" stroke-width="0.55"/>
<rect x="474.2" y="137.5" width="4" height="1.4" fill="#c8c8c8" stroke="#666" stroke-width="0.55"/>
<rect x="474.2" y="145.7" width="4" height="1.4" fill="#c8c8c8" stroke="#666" stroke-width="0.55"/>
<rect x="474.2" y="150.8" width="4" height="1.4" fill="#c8c8c8" stroke="#666" stroke-width="0.55"/>
<rect x="474.2" y="180.1" width="4" height="1.4" fill="#c8c8c8" stroke="#666" stroke-width="0.55"/>
<rect x="479.4" y="217" width="2" height="2" fill="#222"/>
<line x1="482.3" y1="178.8" x2="482.3" y2="175.8" stroke="#9aa" stroke-width="0.5"/>
<line x1="482.3" y1="143.7" x2="482.3" y2="157.3" stroke="#8a9a9a" stroke-width="0.6"/>
<rect x="480.85" y="157.3" width="2.9" height="18.5" rx="0.8" fill="#1c4f8a" stroke="#0e3560" stroke-width="0.5"/>
<ellipse cx="482.3" cy="143.7" rx="2.2" ry="0.75" fill="#1c4f8a" stroke="#0e3560" stroke-width="0.3"/>
<ellipse cx="482.3" cy="178.8" rx="2.2" ry="0.75" fill="#1c4f8a" stroke="#0e3560" stroke-width="0.3"/>
<ellipse cx="485.35" cy="168.8" rx="2.15" ry="0.75" fill="#3aa648" stroke="#2a7f36" stroke-width="0.3"/>
<ellipse cx="488.4" cy="137.9" rx="1.85" ry="0.75" fill="#3a9fdb" stroke="#1c6ea3" stroke-width="0.3"/>
<line x1="498.1" y1="64.6" x2="498.1" y2="86.3" stroke="#b4b4b4" stroke-width="1.1"/>
<rect x="495.9" y="64.6" width="4.4" height="15.9" fill="#b4b4b4"/>
<rect x="496.46" y="64.8" width="3.28" height="1.4" fill="none" stroke="#5a5a5a" stroke-width="0.6"/>
<rect x="496.3" y="67.03" width="3.59" height="1.4" fill="none" stroke="#5a5a5a" stroke-width="0.6"/>
<rect x="496.44" y="69.17" width="3.31" height="1.4" fill="none" stroke="#5a5a5a" stroke-width="0.6"/>
<rect x="496.21" y="71.29" width="3.78" height="1.4" fill="none" stroke="#5a5a5a" stroke-width="0.6"/>
<rect x="496.29" y="73.11" width="3.63" height="1.4" fill="none" stroke="#5a5a5a" stroke-width="0.6"/>
<rect x="496.52" y="75.35" width="3.16" height="1.4" fill="none" stroke="#5a5a5a" stroke-width="0.6"/>
<rect x="496.26" y="77.48" width="3.69" height="1.4" fill="none" stroke="#5a5a5a" stroke-width="0.6"/>
<rect x="496.1" y="85.6" width="4" height="1.4" fill="#c8c8c8" stroke="#666" stroke-width="0.55"/>
<circle cx="501.15" cy="92" r="1.4" fill="#c8142f" stroke="#8c0a1e" stroke-width="0.3"/>
<line x1="504.2" y1="108.9" x2="504.2" y2="103.2" stroke="#9aa" stroke-width="0.5"/>
<polygon points="502,99.3 506.4,99.3 505.05,101.44 506.18,103.2 502.22,103.2 503.35,101.44" fill="#1c4f8a" stroke="#0e3560" stroke-width="0.4"/>
<ellipse cx="504.2" cy="89.4" rx="2.2" ry="0.75" fill="#1c4f8a" stroke="#0e3560" stroke-width="0.3"/>
<ellipse cx="504.2" cy="108.9" rx="2.2" ry="0.75" fill="#1c4f8a" stroke="#0e3560" stroke-width="0.3"/>
<rect x="503.3" y="114.5" width="1.8" height="1.8" fill="#3a3a3a"/>
<ellipse cx="507.25" cy="95.9" rx="2.15" ry="0.75" fill="#3aa648" stroke="#2a7f36" stroke-width="0.3"/>
<rect x="506.35" y="100.1" width="1.8" height="1.8" fill="#3a3a3a"/>
<ellipse cx="510.3" cy="64.4" rx="1.85" ry="0.75" fill="#3a9fdb" stroke="#1c6ea3" stroke-width="0.3"/>
<rect x="38.2" y="313.4" width="4.4" height="12.4" rx="1.2" fill="#c0c0c0"/>
<rect x="37.5" y="316.13" width="5.8" height="7.19" rx="0.8" fill="#b8b8b8" stroke="#777" stroke-width="0.4"/>
<rect x="38.74" y="313.7" width="3.32" height="1.5" rx="0.6" fill="none" stroke="#5e5e5e" stroke-width="0.5"/>
<rect x="38.53" y="315.6" width="3.73" height="1.5" rx="0.6" fill="none" stroke="#5e5e5e" stroke-width="0.5"/>
<rect x="38.09" y="317.42" width="4.63" height="1.5" rx="0.6" fill="none" stroke="#5e5e5e" stroke-width="0.5"/>
<rect x="38.27" y="319.35" width="4.25" height="1.5" rx="0.6" fill="none" stroke="#5e5e5e" stroke-width="0.5"/>
<rect x="38.01" y="321.21" width="4.77" height="1.5" rx="0.6" fill="none" stroke="#5e5e5e" stroke-width="0.5"/>
<rect x="38.9" y="323.33" width="3" height="1.5" rx="0.6" fill="none" stroke="#5e5e5e" stroke-width="0.5"/>
<line x1="47.7" y1="326.3" x2="47.7" y2="328.1" stroke="#9aa" stroke-width="0.5"/>
<line x1="47.7" y1="334.5" x2="47.7" y2="332.6" stroke="#9aa" stroke-width="0.5"/>
<rect x="44.9" y="328.1" width="5.6" height="4.5" rx="0.8" fill="#c8142f" stroke="#8c0a1e" stroke-width="0.5"/>
<line x1="44.9" y1="330.35" x2="50.5" y2="330.35" stroke="#8c0a1e" stroke-width="0.6"/>
<ellipse cx="47.7" cy="326.3" rx="1.5" ry="0.8" fill="#8c0a1e" stroke="#8c0a1e" stroke-width="0.3"/>
<ellipse cx="47.7" cy="334.5" rx="1.5" ry="0.8" fill="#8c0a1e" stroke="#8c0a1e" stroke-width="0.3"/>
<line x1="55" y1="330.4" x2="55" y2="335" stroke="#9aa" stroke-width="0.5"/>
<line x1="55" y1="349.9" x2="55" y2="341.2" stroke="#9aa" stroke-width="0.5"/>
<rect x="52.2" y="335" width="5.6" height="6.2" rx="0.8" fill="#1c4f8a" stroke="#0e3560" stroke-width="0.5"/>
<line x1="52.2" y1="338.1" x2="57.8" y2="338.1" stroke="#0e3560" stroke-width="0.6"/>
<ellipse cx="55" cy="330.4" rx="1.5" ry="0.8" fill="#1c4f8a" stroke="#0e3560" stroke-width="0.3"/>
<ellipse cx="55" cy="349.9" rx="1.5" ry="0.8" fill="#1c4f8a" stroke="#0e3560" stroke-width="0.3"/>
<rect x="54.1" y="355.1" width="1.8" height="1.8" fill="#3a3a3a"/>
<ellipse cx="62.3" cy="322.6" rx="1.5" ry="0.8" fill="#3aa648" stroke="#2a7f36" stroke-width="0.3"/>
<ellipse cx="69.6" cy="320.5" rx="2.8" ry="1.0" fill="#3a9fdb" stroke="#1c6ea3" stroke-width="0.8"/>
<rect x="79.9" y="345.5" width="4.4" height="16.4" rx="1.2" fill="#c0c0c0"/>
<rect x="79.2" y="349.11" width="5.8" height="9.51" rx="0.8" fill="#b8b8b8" stroke="#777" stroke-width="0.4"/>
<rect x="80.6" y="345.8" width="3" height="1.5" rx="0.6" fill="none" stroke="#5e5e5e" stroke-width="0.5"/>
<rect x="80.33" y="347.93" width="3.53" height="1.5" rx="0.6" fill="none" stroke="#5e5e5e" stroke-width="0.5"/>
<rect x="79.51" y="349.37" width="5.18" height="1.5" rx="0.6" fill="none" stroke="#5e5e5e" stroke-width="0.5"/>
<rect x="79.7" y="351.63" width="4.8" height="1.5" rx="0.6" fill="none" stroke="#5e5e5e" stroke-width="0.5"/>
<rect x="79.99" y="353.59" width="4.22" height="1.5" rx="0.6" fill="none" stroke="#5e5e5e" stroke-width="0.5"/>
<rect x="79.77" y="355" width="4.65" height="1.5" rx="0.6" fill="none" stroke="#5e5e5e" stroke-width="0.5"/>
<rect x="79.97" y="356.46" width="4.26" height="1.5" rx="0.6" fill="none" stroke="#5e5e5e" stroke-width="0.5"/>
<rect x="80.06" y="358.07" width="4.07" height="1.5" rx="0.6" fill="none" stroke="#5e5e5e" stroke-width="0.5"/>
<rect x="80.45" y="359.89" width="3.31" height="1.5" rx="0.6" fill="none" stroke="#5e5e5e" stroke-width="0.5"/>
<line x1="89.4" y1="348.4" x2="89.4" y2="352.1" stroke="#9aa" stroke-width="0.5"/>
<line x1="89.4" y1="364.5" x2="89.4" y2="360.5" stroke="#9aa" stroke-width="0.5"/>
<rect x="86.6" y="352.1" width="5.6" height="8.4" rx="0.8" fill="#c8142f" stroke="#8c0a1e" stroke-width="0.5"/>
<line x1="86.6" y1="356.3" x2="92.2" y2="356.3" stroke="#8c0a1e" stroke-width="0.6"/>
<ellipse cx="89.4" cy="348.4" rx="1.5" ry="0.8" fill="#8c0a1e" stroke="#8c0a1e" stroke-width="0.3"/>
<ellipse cx="89.4" cy="364.5" rx="1.5" ry="0.8" fill="#8c0a1e" stroke="#8c0a1e" stroke-width="0.3"/>
<rect x="93.9" y="366.3" width="5.6" height="6.2" rx="0.8" fill="#1c4f8a" stroke="#0e3560" stroke-width="0.5"/>
<line x1="93.9" y1="369.4" x2="99.5" y2="369.4" stroke="#0e3560" stroke-width="0.6"/>
<ellipse cx="96.7" cy="383.5" rx="1.5" ry="0.8" fill="#1c4f8a" stroke="#0e3560" stroke-width="0.3"/>
<rect x="95.8" y="388.9" width="1.8" height="1.8" fill="#3a3a3a"/>
<ellipse cx="104" cy="366.3" rx="1.5" ry="0.8" fill="#3aa648" stroke="#2a7f36" stroke-width="0.3"/>
<rect x="103.1" y="372.5" width="1.8" height="1.8" fill="#3a3a3a"/>
<line x1="111.3" y1="351.4" x2="111.3" y2="353.2" stroke="#9aa" stroke-width="0.5"/>
<line x1="111.3" y1="358.5" x2="111.3" y2="356.5" stroke="#9aa" stroke-width="0.5"/>
<rect x="108.5" y="353.2" width="5.6" height="3.3" rx="0.8" fill="#3a9fdb" stroke="#1c6ea3" stroke-width="0.5"/>
<line x1="108.5" y1="354.85" x2="114.1" y2="354.85" stroke="#1c6ea3" stroke-width="0.6"/>
<ellipse cx="111.3" cy="351.4" rx="1.5" ry="0.8" fill="#3a9fdb" stroke="#1c6ea3" stroke-width="0.3"/>
<ellipse cx="111.3" cy="358.5" rx="1.5" ry="0.8" fill="#3a9fdb" stroke="#1c6ea3" stroke-width="0.3"/>
<rect x="121.6" y="381.6" width="4.4" height="11.1" rx="1.2" fill="#c0c0c0"/>
<rect x="120.9" y="384.04" width="5.8" height="6.44" rx="0.8" fill="#b8b8b8" stroke="#777" stroke-width="0.4"/>
<rect x="122.11" y="381.9" width="3.38" height="1.5" rx="0.6" fill="none" stroke="#5e5e5e" stroke-width="0.5"/>
<rect x="122.12" y="383.88" width="3.36" height="1.5" rx="0.6" fill="none" stroke="#5e5e5e" stroke-width="0.5"/>
<rect x="121.51" y="385.87" width="4.57" height="1.5" rx="0.6" fill="none" stroke="#5e5e5e" stroke-width="0.5"/>
<rect x="121.2" y="387.52" width="5.2" height="1.5" rx="0.6" fill="none" stroke="#5e5e5e" stroke-width="0.5"/>
<rect x="121.29" y="389.82" width="5.01" height="1.5" rx="0.6" fill="none" stroke="#5e5e5e" stroke-width="0.5"/>
<rect x="122.4" y="378.3" width="2.8" height="1.4" fill="#c8c8c8" stroke="#666" stroke-width="0.55"/>
<rect x="122.4" y="394.3" width="2.8" height="1.4" fill="#c8c8c8" stroke="#666" stroke-width="0.55"/>
<rect x="122.4" y="397.8" width="2.8" height="1.4" fill="#c8c8c8" stroke="#666" stroke-width="0.55"/>
<line x1="131.1" y1="392.4" x2="131.1" y2="394" stroke="#9aa" stroke-width="0.5"/>
<line x1="131.1" y1="398.5" x2="131.1" y2="397" stroke="#9aa" stroke-width="0.5"/>
<rect x="128.3" y="394" width="5.6" height="3" rx="0.8" fill="#c8142f" stroke="#8c0a1e" stroke-width="0.5"/>
<line x1="128.3" y1="395.5" x2="133.9" y2="395.5" stroke="#8c0a1e" stroke-width="0.6"/>
<ellipse cx="131.1" cy="392.4" rx="1.5" ry="0.8" fill="#8c0a1e" stroke="#8c0a1e" stroke-width="0.3"/>
<ellipse cx="131.1" cy="398.5" rx="1.5" ry="0.8" fill="#8c0a1e" stroke="#8c0a1e" stroke-width="0.3"/>
<line x1="138.4" y1="398.9" x2="138.4" y2="403.1" stroke="#9aa" stroke-width="0.5"/>
<line x1="138.4" y1="415.5" x2="138.4" y2="408.6" stroke="#9aa" stroke-width="0.5"/>
<rect x="135.6" y="403.1" width="5.6" height="5.5" rx="0.8" fill="#1c4f8a" stroke="#0e3560" stroke-width="0.5"/>
<line x1="135.6" y1="405.85" x2="141.2" y2="405.85" stroke="#0e3560" stroke-width="0.6"/>
<ellipse cx="138.4" cy="398.9" rx="1.5" ry="0.8" fill="#1c4f8a" stroke="#0e3560" stroke-width="0.3"/>
<ellipse cx="138.4" cy="415.5" rx="1.5" ry="0.8" fill="#1c4f8a" stroke="#0e3560" stroke-width="0.3"/>
<rect x="137.5" y="419.7" width="1.8" height="1.8" fill="#3a3a3a"/>
<ellipse cx="145.7" cy="388.5" rx="1.5" ry="0.8" fill="#3aa648" stroke="#2a7f36" stroke-width="0.3"/>
<ellipse cx="153" cy="393.4" rx="2.8" ry="1.0" fill="#3a9fdb" stroke="#1c6ea3" stroke-width="0.8"/>
<rect x="163.3" y="395" width="4.4" height="14.2" rx="1.2" fill="#c0c0c0"/>
<rect x="162.6" y="398.12" width="5.8" height="8.24" rx="0.8" fill="#b8b8b8" stroke="#777" stroke-width="0.4"/>
<rect x="163.9" y="395.3" width="3.2" height="1.5" rx="0.6" fill="none" stroke="#5e5e5e" stroke-width="0.5"/>
<rect x="163.91" y="396.91" width="3.17" height="1.5" rx="0.6" fill="none" stroke="#5e5e5e" stroke-width="0.5"/>
<rect x="163.04" y="398.37" width="4.93" height="1.5" rx="0.6" fill="none" stroke="#5e5e5e" stroke-width="0.5"/>
<rect x="162.99" y="400.13" width="5.02" height="1.5" rx="0.6" fill="none" stroke="#5e5e5e" stroke-width="0.5"/>
<rect x="162.92" y="401.88" width="5.15" height="1.5" rx="0.6" fill="none" stroke="#5e5e5e" stroke-width="0.5"/>
<rect x="163.48" y="404.04" width="4.04" height="1.5" rx="0.6" fill="none" stroke="#5e5e5e" stroke-width="0.5"/>
<rect x="162.95" y="405.63" width="5.1" height="1.5" rx="0.6" fill="none" stroke="#5e5e5e" stroke-width="0.5"/>
<rect x="163.61" y="407.45" width="3.78" height="1.5" rx="0.6" fill="none" stroke="#5e5e5e" stroke-width="0.5"/>
<rect x="164.1" y="389.9" width="2.8" height="1.4" fill="#c8c8c8" stroke="#666" stroke-width="0.55"/>
<rect x="164.1" y="391.8" width="2.8" height="1.4" fill="#c8c8c8" stroke="#666" stroke-width="0.55"/>
<rect x="164.1" y="410.8" width="2.8" height="1.4" fill="#c8c8c8" stroke="#666" stroke-width="0.55"/>
<rect x="164.1" y="412.9" width="2.8" height="1.4" fill="#c8c8c8" stroke="#666" stroke-width="0.55"/>
<rect x="170" y="414.5" width="5.6" height="4.9" rx="0.8" fill="#c8142f" stroke="#8c0a1e" stroke-width="0.5"/>
<line x1="170" y1="416.95" x2="175.6" y2="416.95" stroke="#8c0a1e" stroke-width="0.6"/>
<line x1="180.1" y1="405.7" x2="180.1" y2="401.7" stroke="#9aa" stroke-width="0.5"/>
<rect x="177.3" y="397.3" width="5.6" height="4.4" rx="0.8" fill="#1c4f8a" stroke="#0e3560" stroke-width="0.5"/>
<line x1="177.3" y1="399.5" x2="182.9" y2="399.5" stroke="#0e3560" stroke-width="0.6"/>
<ellipse cx="180.1" cy="405.7" rx="1.5" ry="0.8" fill="#1c4f8a" stroke="#0e3560" stroke-width="0.3"/>
<ellipse cx="187.4" cy="415.7" rx="1.5" ry="0.8" fill="#3aa648" stroke="#2a7f36" stroke-width="0.3"/>
<rect x="186.5" y="421" width="1.8" height="1.8" fill="#3a3a3a"/>
<rect x="191.9" y="400.4" width="5.6" height="2.8" rx="0.8" fill="#3a9fdb" stroke="#1c6ea3" stroke-width="0.5"/>
<line x1="191.9" y1="401.8" x2="197.5" y2="401.8" stroke="#1c6ea3" stroke-width="0.6"/>
<line x1="207.2" y1="408.3" x2="207.2" y2="431.8" stroke="#b4b4b4" stroke-width="1.1"/>
<rect x="205" y="408.3" width="4.4" height="9.1" rx="1.2" fill="#c0c0c0"/>
<rect x="204.3" y="410.3" width="5.8" height="5.28" rx="0.8" fill="#b8b8b8" stroke="#777" stroke-width="0.4"/>
<rect x="205.71" y="408.6" width="2.98" height="1.5" rx="0.6" fill="none" stroke="#5e5e5e" stroke-width="0.5"/>
<rect x="204.73" y="410.57" width="4.94" height="1.5" rx="0.6" fill="none" stroke="#5e5e5e" stroke-width="0.5"/>
<rect x="205.13" y="412.21" width="4.14" height="1.5" rx="0.6" fill="none" stroke="#5e5e5e" stroke-width="0.5"/>
<rect x="204.62" y="413.91" width="5.16" height="1.5" rx="0.6" fill="none" stroke="#5e5e5e" stroke-width="0.5"/>
<rect x="205.69" y="415.99" width="3.02" height="1.5" rx="0.6" fill="none" stroke="#5e5e5e" stroke-width="0.5"/>
<rect x="205.8" y="391" width="2.8" height="1.4" fill="#c8c8c8" stroke="#666" stroke-width="0.55"/>
<rect x="205.8" y="399.2" width="2.8" height="1.4" fill="#c8c8c8" stroke="#666" stroke-width="0.55"/>
<rect x="205.8" y="402.8" width="2.8" height="1.4" fill="#c8c8c8" stroke="#666" stroke-width="0.55"/>
<rect x="205.8" y="405" width="2.8" height="1.4" fill="#c8c8c8" stroke="#666" stroke-width="0.55"/>
<rect x="205.8" y="423.1" width="2.8" height="1.4" fill="#c8c8c8" stroke="#666" stroke-width="0.55"/>
<rect x="205.8" y="431.1" width="2.8" height="1.4" fill="#c8c8c8" stroke="#666" stroke-width="0.55"/>
<rect x="205.8" y="434.5" width="2.8" height="1.4" fill="#c8c8c8" stroke="#666" stroke-width="0.55"/>
<rect x="205.8" y="455.9" width="2.8" height="1.4" fill="#c8c8c8" stroke="#666" stroke-width="0.55"/>
<ellipse cx="214.5" cy="441.5" rx="2.8" ry="1.7" fill="#a80f28" stroke="#8c0a1e" stroke-width="0.5"/>
<rect x="223.1" y="475.7" width="2" height="2" fill="#222"/>
<ellipse cx="229.1" cy="411" rx="1.5" ry="0.8" fill="#3aa648" stroke="#2a7f36" stroke-width="0.3"/>
<line x1="236.4" y1="401.5" x2="236.4" y2="405.5" stroke="#9aa" stroke-width="0.5"/>
<line x1="236.4" y1="416.5" x2="236.4" y2="412.7" stroke="#9aa" stroke-width="0.5"/>
<rect x="233.6" y="405.5" width="5.6" height="7.2" rx="0.8" fill="#3a9fdb" stroke="#1c6ea3" stroke-width="0.5"/>
<line x1="233.6" y1="409.1" x2="239.2" y2="409.1" stroke="#1c6ea3" stroke-width="0.6"/>
<ellipse cx="236.4" cy="401.5" rx="1.5" ry="0.8" fill="#3a9fdb" stroke="#1c6ea3" stroke-width="0.3"/>
<ellipse cx="236.4" cy="416.5" rx="1.5" ry="0.8" fill="#3a9fdb" stroke="#1c6ea3" stroke-width="0.3"/>
<line x1="248.9" y1="387.7" x2="248.9" y2="417.3" stroke="#b4b4b4" stroke-width="1.1"/>
<rect x="246.7" y="402.7" width="4.4" height="14.6" rx="1.2" fill="#c0c0c0"/>
<rect x="246" y="405.91" width="5.8" height="8.47" rx="0.8" fill="#b8b8b8" stroke="#777" stroke-width="0.4"/>
<rect x="247.4" y="403" width="3.01" height="1.5" rx="0.6" fill="none" stroke="#5e5e5e" stroke-width="0.5"/>
<rect x="247.09" y="404.45" width="3.62" height="1.5" rx="0.6" fill="none" stroke="#5e5e5e" stroke-width="0.5"/>
<rect x="246.56" y="406.01" width="4.69" height="1.5" rx="0.6" fill="none" stroke="#5e5e5e" stroke-width="0.5"/>
<rect x="246.77" y="407.82" width="4.26" height="1.5" rx="0.6" fill="none" stroke="#5e5e5e" stroke-width="0.5"/>
<rect x="246.8" y="409.88" width="4.19" height="1.5" rx="0.6" fill="none" stroke="#5e5e5e" stroke-width="0.5"/>
<rect x="246.81" y="411.85" width="4.18" height="1.5" rx="0.6" fill="none" stroke="#5e5e5e" stroke-width="0.5"/>
<rect x="246.76" y="413.63" width="4.29" height="1.5" rx="0.6" fill="none" stroke="#5e5e5e" stroke-width="0.5"/>
<rect x="247.01" y="415.28" width="3.77" height="1.5" rx="0.6" fill="none" stroke="#5e5e5e" stroke-width="0.5"/>
<rect x="247.5" y="387" width="2.8" height="1.4" fill="#c8c8c8" stroke="#666" stroke-width="0.55"/>
<rect x="247.5" y="391.8" width="2.8" height="1.4" fill="#c8c8c8" stroke="#666" stroke-width="0.55"/>
<rect x="247.5" y="399.2" width="2.8" height="1.4" fill="#c8c8c8" stroke="#666" stroke-width="0.55"/>
<rect x="247.5" y="422.4" width="2.8" height="1.4" fill="#c8c8c8" stroke="#666" stroke-width="0.55"/>
<rect x="247.5" y="425.8" width="2.8" height="1.4" fill="#c8c8c8" stroke="#666" stroke-width="0.55"/>
<rect x="247.5" y="427.4" width="2.8" height="1.4" fill="#c8c8c8" stroke="#666" stroke-width="0.55"/>
<rect x="247.5" y="443.3" width="2.8" height="1.4" fill="#c8c8c8" stroke="#666" stroke-width="0.55"/>
<ellipse cx="256.2" cy="428.4" rx="2.8" ry="1.7" fill="#a80f28" stroke="#8c0a1e" stroke-width="0.5"/>
<line x1="263.5" y1="423.7" x2="263.5" y2="428.1" stroke="#9aa" stroke-width="0.5"/>
<rect x="260.7" y="428.1" width="5.6" height="3.7" rx="0.8" fill="#1c4f8a" stroke="#0e3560" stroke-width="0.5"/>
<line x1="260.7" y1="429.95" x2="266.3" y2="429.95" stroke="#0e3560" stroke-width="0.6"/>
<ellipse cx="263.5" cy="423.7" rx="1.5" ry="0.8" fill="#1c4f8a" stroke="#0e3560" stroke-width="0.3"/>
<rect x="262.6" y="439.3" width="1.8" height="1.8" fill="#3a3a3a"/>
<ellipse cx="270.8" cy="416.2" rx="1.5" ry="0.8" fill="#3aa648" stroke="#2a7f36" stroke-width="0.3"/>
<rect x="269.9" y="423.1" width="1.8" height="1.8" fill="#3a3a3a"/>
<line x1="278.1" y1="403.6" x2="278.1" y2="405.8" stroke="#9aa" stroke-width="0.5"/>
<line x1="278.1" y1="412.9" x2="278.1" y2="410.8" stroke="#9aa" stroke-width="0.5"/>
<rect x="275.3" y="405.8" width="5.6" height="5" rx="0.8" fill="#3a9fdb" stroke="#1c6ea3" stroke-width="0.5"/>
<line x1="275.3" y1="408.3" x2="280.9" y2="408.3" stroke="#1c6ea3" stroke-width="0.6"/>
<ellipse cx="278.1" cy="403.6" rx="1.5" ry="0.8" fill="#3a9fdb" stroke="#1c6ea3" stroke-width="0.3"/>
<ellipse cx="278.1" cy="412.9" rx="1.5" ry="0.8" fill="#3a9fdb" stroke="#1c6ea3" stroke-width="0.3"/>
<line x1="290.6" y1="327.8" x2="290.6" y2="349.1" stroke="#b4b4b4" stroke-width="1.1"/>
<rect x="288.4" y="327.8" width="4.4" height="15.5" rx="1.2" fill="#c0c0c0"/>
<rect x="287.7" y="331.21" width="5.8" height="8.99" rx="0.8" fill="#b8b8b8" stroke="#777" stroke-width="0.4"/>
<rect x="289.01" y="328.1" width="3.19" height="1.5" rx="0.6" fill="none" stroke="#5e5e5e" stroke-width="0.5"/>
<rect x="289.05" y="330.3" width="3.11" height="1.5" rx="0.6" fill="none" stroke="#5e5e5e" stroke-width="0.5"/>
<rect x="288.08" y="332.05" width="5.03" height="1.5" rx="0.6" fill="none" stroke="#5e5e5e" stroke-width="0.5"/>
<rect x="288.52" y="334.03" width="4.16" height="1.5" rx="0.6" fill="none" stroke="#5e5e5e" stroke-width="0.5"/>
<rect x="288.46" y="336.32" width="4.29" height="1.5" rx="0.6" fill="none" stroke="#5e5e5e" stroke-width="0.5"/>
<rect x="288.13" y="337.95" width="4.94" height="1.5" rx="0.6" fill="none" stroke="#5e5e5e" stroke-width="0.5"/>
<rect x="288.41" y="339.65" width="4.38" height="1.5" rx="0.6" fill="none" stroke="#5e5e5e" stroke-width="0.5"/>
<rect x="289.1" y="341.11" width="3" height="1.5" rx="0.6" fill="none" stroke="#5e5e5e" stroke-width="0.5"/>
<rect x="289.2" y="348.4" width="2.8" height="1.4" fill="#c8c8c8" stroke="#666" stroke-width="0.55"/>
<ellipse cx="297.9" cy="354.4" rx="2.8" ry="1.7" fill="#a80f28" stroke="#8c0a1e" stroke-width="0.5"/>
<line x1="305.2" y1="370.8" x2="305.2" y2="365.5" stroke="#9aa" stroke-width="0.5"/>
<rect x="302.4" y="361.5" width="5.6" height="4" rx="0.8" fill="#1c4f8a" stroke="#0e3560" stroke-width="0.5"/>
<line x1="302.4" y1="363.5" x2="308" y2="363.5" stroke="#0e3560" stroke-width="0.6"/>
<ellipse cx="305.2" cy="352.2" rx="1.5" ry="0.8" fill="#1c4f8a" stroke="#0e3560" stroke-width="0.3"/>
<ellipse cx="305.2" cy="370.8" rx="1.5" ry="0.8" fill="#1c4f8a" stroke="#0e3560" stroke-width="0.3"/>
<rect x="304.3" y="377.2" width="1.8" height="1.8" fill="#3a3a3a"/>
<ellipse cx="312.5" cy="358.4" rx="1.5" ry="0.8" fill="#3aa648" stroke="#2a7f36" stroke-width="0.3"/>
<rect x="311.6" y="365.9" width="1.8" height="1.8" fill="#3a3a3a"/>
<ellipse cx="316.9" cy="328.9" rx="2.8" ry="1.0" fill="#3a9fdb" stroke="#1c6ea3" stroke-width="0.8"/>
<rect x="339" y="290.80" width="12" height="4" fill="#a3a3a3"/>
<line x1="339" y1="292.80" x2="351" y2="292.80" stroke="#dcdcdc" stroke-width="0.5" opacity="0.6"/>
<line x1="345" y1="290.10" x2="345" y2="295.70" stroke="#a3a3a3" stroke-width="0.5"/>
<text x="353.8" y="295.10" font-size="7.5" fill="#3a3a3a" stroke="#3a3a3a" stroke-width="0.2" textLength="24.6" lengthAdjust="spacingAndGlyphs">Control</text>
<rect x="339" y="298.90" width="12" height="4" fill="#c0163a"/>
<line x1="339" y1="300.90" x2="351" y2="300.90" stroke="#e07a90" stroke-width="0.5" opacity="0.6"/>
<line x1="345" y1="298.20" x2="345" y2="303.80" stroke="#c0163a" stroke-width="0.5"/>
<text x="353.8" y="303.20" font-size="7.5" fill="#3a3a3a" stroke="#3a3a3a" stroke-width="0.2">GATA1 R216Q</text>
<rect x="339" y="307.00" width="12" height="4" fill="#1c4a80"/>
<line x1="339" y1="309.00" x2="351" y2="309.00" stroke="#6f8fb5" stroke-width="0.5" opacity="0.6"/>
<line x1="345" y1="306.30" x2="345" y2="311.90" stroke="#1c4a80" stroke-width="0.5"/>
<text x="353.8" y="311.30" font-size="7.5" fill="#3a3a3a" stroke="#3a3a3a" stroke-width="0.2">GFI1B Q287</text>
<rect x="339" y="315.10" width="12" height="4" fill="#3aa64a"/>
<line x1="339" y1="317.10" x2="351" y2="317.10" stroke="#8fd097" stroke-width="0.5" opacity="0.6"/>
<line x1="345" y1="314.40" x2="345" y2="320.00" stroke="#3aa64a" stroke-width="0.5"/>
<text x="353.8" y="319.40" font-size="7.5" fill="#3a3a3a" stroke="#3a3a3a" stroke-width="0.2">RUNX1 Q154Rfs</text>
<rect x="339" y="323.20" width="12" height="4" fill="#3a9ed6"/>
<line x1="339" y1="325.20" x2="351" y2="325.20" stroke="#9fd0ee" stroke-width="0.5" opacity="0.6"/>
<line x1="345" y1="322.50" x2="345" y2="328.10" stroke="#3a9ed6" stroke-width="0.5"/>
<text x="353.8" y="327.50" font-size="7.5" fill="#3a3a3a" stroke="#3a3a3a" stroke-width="0.2">RUNX1 TD2-6</text>
<rect x="0" y="0" width="1" height="522" fill="#000"/>
<rect x="0" y="0" width="520" height="1" fill="#000"/>
<rect x="518.6" y="0" width="1.4" height="522" fill="#000"/>
<rect x="0" y="520.6" width="520" height="1.4" fill="#000"/>
</svg>
</body></html>
